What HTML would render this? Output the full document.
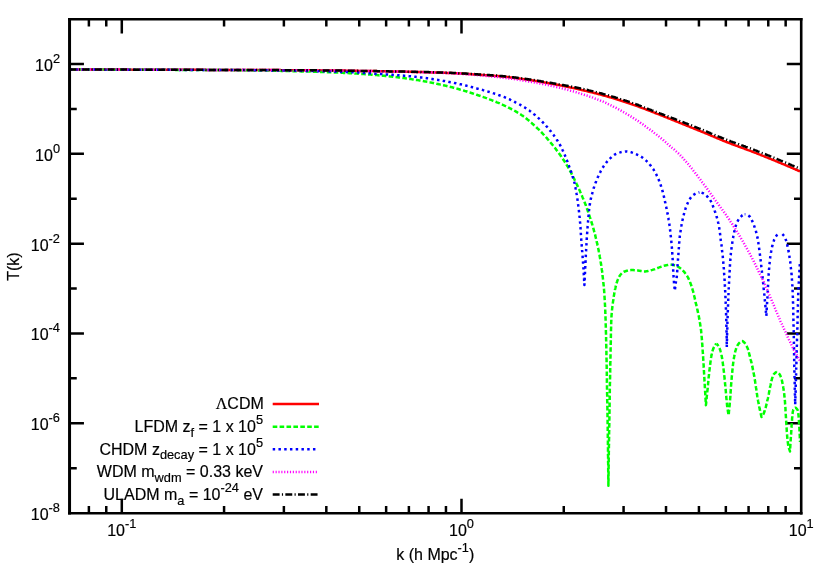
<!DOCTYPE html>
<html lang="en">
<head>
<meta charset="utf-8">
<title>T(k) transfer functions</title>
<style>
html,body{margin:0;padding:0;background:#ffffff;}
body{width:830px;height:581px;overflow:hidden;font-family:"Liberation Sans",sans-serif;}
svg{display:block;will-change:transform;}
</style>
</head>
<body>
<svg width="830" height="581" viewBox="0 0 830 581">
<rect width="830" height="581" fill="#ffffff"/>
<path d="M88.88,513.2 v-7.2 M88.88,19.2 v7.2 M106.26,513.2 v-7.2 M106.26,19.2 v7.2 M121.80,513.2 v-14.4 M121.80,19.2 v14.4 M224.06,513.2 v-7.2 M224.06,19.2 v7.2 M283.88,513.2 v-7.2 M283.88,19.2 v7.2 M326.32,513.2 v-7.2 M326.32,19.2 v7.2 M359.24,513.2 v-7.2 M359.24,19.2 v7.2 M386.14,513.2 v-7.2 M386.14,19.2 v7.2 M408.88,513.2 v-7.2 M408.88,19.2 v7.2 M428.58,513.2 v-7.2 M428.58,19.2 v7.2 M445.96,513.2 v-7.2 M445.96,19.2 v7.2 M461.50,513.2 v-14.4 M461.50,19.2 v14.4 M563.76,513.2 v-7.2 M563.76,19.2 v7.2 M623.58,513.2 v-7.2 M623.58,19.2 v7.2 M666.02,513.2 v-7.2 M666.02,19.2 v7.2 M698.94,513.2 v-7.2 M698.94,19.2 v7.2 M725.84,513.2 v-7.2 M725.84,19.2 v7.2 M748.58,513.2 v-7.2 M748.58,19.2 v7.2 M768.28,513.2 v-7.2 M768.28,19.2 v7.2 M785.66,513.2 v-7.2 M785.66,19.2 v7.2 M69.55,468.18 h7.2 M801.2,468.18 h-7.2 M69.55,423.27 h14.4 M801.2,423.27 h-14.4 M69.55,378.36 h7.2 M801.2,378.36 h-7.2 M69.55,333.45 h14.4 M801.2,333.45 h-14.4 M69.55,288.55 h7.2 M801.2,288.55 h-7.2 M69.55,243.64 h14.4 M801.2,243.64 h-14.4 M69.55,198.73 h7.2 M801.2,198.73 h-7.2 M69.55,153.82 h14.4 M801.2,153.82 h-14.4 M69.55,108.91 h7.2 M801.2,108.91 h-7.2 M69.55,64.00 h14.4 M801.2,64.00 h-14.4" stroke="#000" stroke-width="2.5" fill="none"/>
<g fill="none" stroke-linejoin="round">
<path d="M69.7,69.6 L70.5,69.6 L71.3,69.6 L72.1,69.6 L72.9,69.6 L73.7,69.6 L74.5,69.6 L75.3,69.6 L76.1,69.6 L76.9,69.6 L77.7,69.6 L78.5,69.6 L79.3,69.6 L80.1,69.6 L80.9,69.6 L81.7,69.6 L82.5,69.6 L83.3,69.6 L84.1,69.6 L84.9,69.6 L85.7,69.6 L86.5,69.6 L87.3,69.6 L88.1,69.6 L88.9,69.6 L89.7,69.6 L90.5,69.6 L91.3,69.6 L92.1,69.6 L92.9,69.6 L93.7,69.6 L94.5,69.6 L95.3,69.6 L96.1,69.6 L96.9,69.6 L97.7,69.6 L98.5,69.6 L99.3,69.6 L100.1,69.6 L100.9,69.6 L101.7,69.6 L102.5,69.6 L103.3,69.6 L104.1,69.6 L104.9,69.6 L105.7,69.6 L106.5,69.6 L107.3,69.6 L108.2,69.6 L109.0,69.6 L109.8,69.6 L110.6,69.6 L111.4,69.6 L112.2,69.6 L113.0,69.6 L113.8,69.6 L114.6,69.6 L115.4,69.6 L116.2,69.6 L117.0,69.6 L117.8,69.6 L118.6,69.6 L119.4,69.6 L120.2,69.6 L121.0,69.6 L121.8,69.6 L122.6,69.6 L123.4,69.6 L124.2,69.6 L125.0,69.6 L125.8,69.6 L126.6,69.6 L127.4,69.6 L128.2,69.6 L129.0,69.6 L129.8,69.7 L130.6,69.7 L131.4,69.7 L132.2,69.7 L133.0,69.7 L133.8,69.7 L134.6,69.7 L135.4,69.7 L136.2,69.7 L137.0,69.7 L137.8,69.7 L138.6,69.7 L139.4,69.7 L140.2,69.7 L141.0,69.7 L141.8,69.7 L142.6,69.7 L143.4,69.7 L144.2,69.7 L145.0,69.7 L145.8,69.7 L146.6,69.7 L147.4,69.7 L148.2,69.7 L149.0,69.7 L149.8,69.7 L150.6,69.7 L151.4,69.7 L152.2,69.7 L153.0,69.7 L153.8,69.7 L154.6,69.7 L155.4,69.7 L156.2,69.7 L157.0,69.7 L157.8,69.7 L158.6,69.7 L159.4,69.7 L160.2,69.7 L161.0,69.7 L161.8,69.7 L162.6,69.7 L163.4,69.7 L164.2,69.7 L165.0,69.7 L165.8,69.7 L166.6,69.7 L167.4,69.7 L168.2,69.7 L169.0,69.7 L169.8,69.7 L170.6,69.7 L171.4,69.7 L172.2,69.7 L173.0,69.7 L173.8,69.7 L174.6,69.7 L175.4,69.7 L176.2,69.7 L177.0,69.7 L177.8,69.7 L178.6,69.7 L179.4,69.7 L180.2,69.8 L181.0,69.8 L181.8,69.8 L182.6,69.8 L183.4,69.8 L184.2,69.8 L185.0,69.8 L185.9,69.8 L186.7,69.8 L187.5,69.8 L188.3,69.8 L189.1,69.8 L189.9,69.8 L190.7,69.8 L191.5,69.8 L192.3,69.8 L193.1,69.8 L193.9,69.8 L194.7,69.8 L195.5,69.8 L196.3,69.8 L197.1,69.8 L197.9,69.8 L198.7,69.8 L199.5,69.8 L200.3,69.8 L201.1,69.8 L201.9,69.8 L202.7,69.8 L203.5,69.8 L204.3,69.8 L205.1,69.8 L205.9,69.9 L206.7,69.9 L207.5,69.9 L208.3,69.9 L209.1,69.9 L209.9,69.9 L210.7,69.9 L211.5,69.9 L212.3,69.9 L213.1,69.9 L213.9,69.9 L214.7,69.9 L215.5,69.9 L216.3,69.9 L217.1,69.9 L217.9,69.9 L218.7,69.9 L219.5,69.9 L220.3,69.9 L221.1,69.9 L221.9,69.9 L222.7,69.9 L223.5,69.9 L224.3,69.9 L225.1,69.9 L225.9,69.9 L226.7,69.9 L227.5,69.9 L228.3,70.0 L229.1,70.0 L229.9,70.0 L230.7,70.0 L231.5,70.0 L232.3,70.0 L233.1,70.0 L233.9,70.0 L234.7,70.0 L235.5,70.0 L236.3,70.0 L237.1,70.0 L237.9,70.0 L238.7,70.0 L239.5,70.0 L240.3,70.0 L241.1,70.0 L241.9,70.0 L242.7,70.0 L243.5,70.0 L244.3,70.0 L245.1,70.0 L245.9,70.0 L246.7,70.0 L247.5,70.0 L248.3,70.0 L249.1,70.0 L249.9,70.0 L250.7,70.0 L251.5,70.0 L252.3,70.0 L253.1,70.0 L253.9,70.1 L254.7,70.1 L255.5,70.1 L256.3,70.1 L257.1,70.1 L257.9,70.1 L258.7,70.1 L259.5,70.1 L260.3,70.1 L261.1,70.1 L261.9,70.1 L262.8,70.1 L263.6,70.1 L264.4,70.1 L265.2,70.1 L266.0,70.1 L266.8,70.1 L267.6,70.1 L268.4,70.1 L269.2,70.1 L270.0,70.1 L270.8,70.1 L271.6,70.1 L272.4,70.1 L273.2,70.1 L274.0,70.1 L274.8,70.1 L275.6,70.1 L276.4,70.1 L277.2,70.1 L278.0,70.1 L278.8,70.1 L279.6,70.1 L280.4,70.1 L281.2,70.2 L282.0,70.2 L282.8,70.2 L283.6,70.2 L284.4,70.2 L285.2,70.2 L286.0,70.2 L286.8,70.2 L287.6,70.2 L288.4,70.2 L289.2,70.2 L290.0,70.2 L290.8,70.2 L291.6,70.2 L292.4,70.2 L293.2,70.2 L294.0,70.2 L294.8,70.2 L295.6,70.2 L296.4,70.2 L297.2,70.2 L298.0,70.2 L298.8,70.2 L299.6,70.2 L300.4,70.2 L301.2,70.2 L302.0,70.3 L302.8,70.3 L303.6,70.3 L304.4,70.3 L305.2,70.3 L306.0,70.3 L306.8,70.3 L307.6,70.3 L308.4,70.3 L309.2,70.3 L310.0,70.3 L310.8,70.3 L311.6,70.3 L312.4,70.3 L313.2,70.3 L314.0,70.3 L314.8,70.3 L315.6,70.3 L316.4,70.3 L317.2,70.4 L318.0,70.4 L318.8,70.4 L319.6,70.4 L320.4,70.4 L321.2,70.4 L322.0,70.4 L322.8,70.4 L323.6,70.4 L324.4,70.4 L325.2,70.4 L326.0,70.4 L326.8,70.4 L327.6,70.4 L328.4,70.5 L329.2,70.5 L330.0,70.5 L330.8,70.5 L331.6,70.5 L332.4,70.5 L333.2,70.5 L334.0,70.5 L334.8,70.5 L335.6,70.5 L336.4,70.5 L337.2,70.6 L338.0,70.6 L338.8,70.6 L339.6,70.6 L340.4,70.6 L341.3,70.6 L342.1,70.6 L342.9,70.6 L343.7,70.6 L344.5,70.6 L345.3,70.7 L346.1,70.7 L346.9,70.7 L347.7,70.7 L348.5,70.7 L349.3,70.7 L350.1,70.7 L350.9,70.7 L351.7,70.7 L352.5,70.8 L353.3,70.8 L354.1,70.8 L354.9,70.8 L355.7,70.8 L356.5,70.8 L357.3,70.8 L358.1,70.8 L358.9,70.9 L359.7,70.9 L360.5,70.9 L361.3,70.9 L362.1,70.9 L362.9,70.9 L363.7,70.9 L364.5,70.9 L365.3,71.0 L366.1,71.0 L366.9,71.0 L367.7,71.0 L368.5,71.0 L369.3,71.0 L370.1,71.0 L370.9,71.0 L371.7,71.1 L372.5,71.1 L373.3,71.1 L374.1,71.1 L374.9,71.1 L375.7,71.1 L376.5,71.1 L377.3,71.2 L378.1,71.2 L378.9,71.2 L379.7,71.2 L380.5,71.2 L381.3,71.2 L382.1,71.2 L382.9,71.3 L383.7,71.3 L384.5,71.3 L385.3,71.3 L386.1,71.3 L386.9,71.3 L387.7,71.3 L388.5,71.4 L389.3,71.4 L390.1,71.4 L390.9,71.4 L391.7,71.4 L392.5,71.4 L393.3,71.4 L394.1,71.5 L394.9,71.5 L395.7,71.5 L396.5,71.5 L397.3,71.5 L398.1,71.5 L398.9,71.6 L399.7,71.6 L400.5,71.6 L401.3,71.6 L402.1,71.6 L402.9,71.6 L403.7,71.7 L404.5,71.7 L405.3,71.7 L406.1,71.7 L406.9,71.7 L407.7,71.7 L408.5,71.8 L409.3,71.8 L410.1,71.8 L410.9,71.8 L411.7,71.8 L412.5,71.9 L413.3,71.9 L414.1,71.9 L414.9,71.9 L415.7,71.9 L416.5,72.0 L417.3,72.0 L418.1,72.0 L418.9,72.0 L419.7,72.0 L420.5,72.1 L421.3,72.1 L422.1,72.1 L422.9,72.1 L423.7,72.1 L424.5,72.2 L425.3,72.2 L426.2,72.2 L427.0,72.2 L427.8,72.3 L428.6,72.3 L429.4,72.3 L430.2,72.3 L431.0,72.3 L431.8,72.4 L432.6,72.4 L433.4,72.4 L434.2,72.4 L435.0,72.5 L435.8,72.5 L436.6,72.5 L437.4,72.5 L438.2,72.6 L439.0,72.6 L439.8,72.6 L440.6,72.7 L441.4,72.7 L442.2,72.7 L443.0,72.7 L443.8,72.8 L444.6,72.8 L445.4,72.8 L446.2,72.9 L447.0,72.9 L447.8,72.9 L448.6,72.9 L449.4,73.0 L450.2,73.0 L451.0,73.0 L451.8,73.1 L452.6,73.1 L453.4,73.2 L454.2,73.2 L455.0,73.2 L455.8,73.3 L456.6,73.3 L457.4,73.4 L458.2,73.4 L459.0,73.4 L459.8,73.5 L460.6,73.5 L461.4,73.6 L462.2,73.6 L463.0,73.7 L463.8,73.7 L464.6,73.8 L465.4,73.8 L466.2,73.9 L467.0,73.9 L467.8,74.0 L468.6,74.0 L469.4,74.1 L470.2,74.1 L471.0,74.2 L471.8,74.2 L472.6,74.3 L473.4,74.4 L474.2,74.4 L475.0,74.5 L475.8,74.5 L476.6,74.6 L477.4,74.6 L478.2,74.7 L479.0,74.7 L479.8,74.8 L480.5,74.8 L481.3,74.9 L482.1,74.9 L482.9,75.0 L483.7,75.0 L484.5,75.1 L485.3,75.2 L486.1,75.2 L486.9,75.3 L487.7,75.3 L488.5,75.4 L489.3,75.4 L490.1,75.5 L490.9,75.6 L491.7,75.6 L492.5,75.7 L493.3,75.7 L494.1,75.8 L494.9,75.9 L495.7,75.9 L496.5,76.0 L497.3,76.1 L498.1,76.1 L498.9,76.2 L499.7,76.3 L500.5,76.3 L501.3,76.4 L502.1,76.5 L502.9,76.6 L503.7,76.7 L504.5,76.7 L505.3,76.8 L506.1,76.9 L506.9,77.0 L507.7,77.1 L508.5,77.2 L509.3,77.3 L510.1,77.4 L510.9,77.5 L511.7,77.6 L512.5,77.7 L513.3,77.8 L514.0,77.9 L514.8,78.0 L515.6,78.1 L516.4,78.2 L517.2,78.3 L518.0,78.4 L518.8,78.5 L519.6,78.6 L520.4,78.7 L521.2,78.8 L522.0,78.9 L522.8,79.1 L523.6,79.2 L524.4,79.3 L525.2,79.4 L526.0,79.5 L526.8,79.6 L527.5,79.7 L528.3,79.8 L529.1,80.0 L529.9,80.1 L530.7,80.2 L531.5,80.3 L532.3,80.5 L533.1,80.6 L533.9,80.7 L534.7,80.8 L535.5,81.0 L536.2,81.1 L537.0,81.2 L537.8,81.4 L538.6,81.5 L539.4,81.6 L540.2,81.8 L541.0,81.9 L541.8,82.0 L542.6,82.2 L543.4,82.3 L544.1,82.5 L544.9,82.6 L545.7,82.7 L546.5,82.9 L547.3,83.0 L548.1,83.1 L548.9,83.3 L549.7,83.4 L550.5,83.5 L551.2,83.7 L552.0,83.8 L552.8,84.0 L553.6,84.1 L554.4,84.2 L555.2,84.4 L556.0,84.5 L556.8,84.7 L557.6,84.8 L558.3,85.0 L559.1,85.1 L559.9,85.3 L560.7,85.4 L561.5,85.6 L562.3,85.7 L563.1,85.9 L563.8,86.1 L564.6,86.2 L565.4,86.4 L566.2,86.5 L567.0,86.7 L567.8,86.9 L568.5,87.0 L569.3,87.2 L570.1,87.4 L570.9,87.5 L571.7,87.7 L572.5,87.9 L573.2,88.1 L574.0,88.2 L574.8,88.4 L575.6,88.6 L576.4,88.7 L577.2,88.9 L577.9,89.1 L578.7,89.3 L579.5,89.5 L580.3,89.6 L581.1,89.8 L581.8,90.0 L582.6,90.2 L583.4,90.4 L584.2,90.5 L585.0,90.7 L585.7,90.9 L586.5,91.1 L587.3,91.3 L588.1,91.5 L588.9,91.7 L589.6,91.9 L590.4,92.0 L591.2,92.2 L592.0,92.4 L592.7,92.6 L593.5,92.8 L594.3,93.0 L595.1,93.2 L595.9,93.4 L596.6,93.6 L597.4,93.8 L598.2,94.0 L599.0,94.2 L599.7,94.4 L600.5,94.6 L601.3,94.8 L602.1,95.0 L602.8,95.3 L603.6,95.5 L604.4,95.7 L605.1,95.9 L605.9,96.1 L606.7,96.3 L607.5,96.5 L608.2,96.8 L609.0,97.0 L609.8,97.2 L610.5,97.4 L611.3,97.7 L612.1,97.9 L612.8,98.1 L613.6,98.3 L614.4,98.6 L615.1,98.8 L615.9,99.0 L616.7,99.3 L617.4,99.5 L618.2,99.8 L619.0,100.0 L619.7,100.2 L620.5,100.5 L621.3,100.7 L622.0,101.0 L622.8,101.2 L623.5,101.5 L624.3,101.7 L625.1,102.0 L625.8,102.2 L626.6,102.5 L627.3,102.7 L628.1,103.0 L628.9,103.2 L629.6,103.5 L630.4,103.7 L631.1,104.0 L631.9,104.3 L632.7,104.5 L633.4,104.8 L634.2,105.1 L634.9,105.3 L635.7,105.6 L636.4,105.9 L637.2,106.1 L637.9,106.4 L638.7,106.7 L639.4,107.0 L640.2,107.2 L640.9,107.5 L641.7,107.8 L642.4,108.1 L643.2,108.4 L643.9,108.6 L644.7,108.9 L645.4,109.2 L646.2,109.5 L646.9,109.8 L647.7,110.1 L648.4,110.4 L649.2,110.7 L649.9,110.9 L650.7,111.2 L651.4,111.5 L652.2,111.8 L652.9,112.1 L653.7,112.4 L654.4,112.7 L655.1,113.0 L655.9,113.3 L656.6,113.6 L657.4,113.9 L658.1,114.1 L658.9,114.4 L659.6,114.7 L660.4,115.0 L661.1,115.3 L661.9,115.6 L662.6,115.9 L663.3,116.2 L664.1,116.5 L664.8,116.8 L665.6,117.1 L666.3,117.4 L667.1,117.7 L667.8,118.0 L668.6,118.3 L669.3,118.6 L670.0,118.9 L670.8,119.2 L671.5,119.5 L672.3,119.8 L673.0,120.1 L673.8,120.4 L674.5,120.7 L675.2,121.0 L676.0,121.3 L676.7,121.6 L677.5,121.9 L678.2,122.2 L679.0,122.5 L679.7,122.8 L680.4,123.1 L681.2,123.4 L681.9,123.7 L682.7,124.0 L683.4,124.3 L684.2,124.6 L684.9,124.9 L685.6,125.2 L686.4,125.5 L687.1,125.8 L687.9,126.1 L688.6,126.4 L689.4,126.7 L690.1,127.0 L690.8,127.3 L691.6,127.6 L692.3,127.9 L693.1,128.2 L693.8,128.5 L694.6,128.8 L695.3,129.1 L696.0,129.4 L696.8,129.7 L697.5,130.0 L698.3,130.3 L699.0,130.6 L699.8,130.9 L700.5,131.2 L701.2,131.5 L702.0,131.8 L702.7,132.1 L703.5,132.4 L704.2,132.7 L704.9,133.0 L705.7,133.3 L706.4,133.6 L707.2,133.9 L707.9,134.2 L708.6,134.5 L709.4,134.9 L710.1,135.2 L710.9,135.5 L711.6,135.8 L712.3,136.1 L713.1,136.4 L713.8,136.7 L714.5,137.1 L715.3,137.4 L716.0,137.7 L716.8,138.0 L717.5,138.3 L718.2,138.6 L719.0,138.9 L719.7,139.2 L720.4,139.5 L721.2,139.8 L721.9,140.1 L722.7,140.5 L723.4,140.8 L724.2,141.1 L724.9,141.4 L725.6,141.7 L726.4,142.0 L727.1,142.2 L727.9,142.5 L728.6,142.8 L729.4,143.1 L730.1,143.4 L730.9,143.7 L731.6,144.0 L732.4,144.3 L733.1,144.5 L733.9,144.8 L734.6,145.1 L735.4,145.4 L736.1,145.7 L736.9,145.9 L737.6,146.2 L738.4,146.5 L739.1,146.8 L739.9,147.0 L740.6,147.3 L741.4,147.6 L742.1,147.9 L742.9,148.1 L743.6,148.4 L744.4,148.7 L745.1,149.0 L745.9,149.2 L746.6,149.5 L747.4,149.8 L748.1,150.1 L748.9,150.4 L749.6,150.6 L750.4,150.9 L751.1,151.2 L751.9,151.5 L752.6,151.8 L753.4,152.1 L754.1,152.4 L754.9,152.7 L755.6,152.9 L756.4,153.2 L757.1,153.5 L757.9,153.8 L758.6,154.1 L759.3,154.4 L760.1,154.7 L760.8,155.0 L761.6,155.3 L762.3,155.6 L763.1,155.9 L763.8,156.2 L764.6,156.5 L765.3,156.8 L766.0,157.1 L766.8,157.4 L767.5,157.7 L768.3,158.0 L769.0,158.3 L769.7,158.6 L770.5,158.9 L771.2,159.2 L772.0,159.5 L772.7,159.8 L773.5,160.1 L774.2,160.4 L774.9,160.7 L775.7,161.0 L776.4,161.3 L777.2,161.6 L777.9,161.9 L778.6,162.3 L779.4,162.6 L780.1,162.9 L780.9,163.2 L781.6,163.5 L782.3,163.8 L783.1,164.1 L783.8,164.4 L784.5,164.7 L785.3,165.0 L786.0,165.4 L786.8,165.7 L787.5,166.0 L788.2,166.3 L789.0,166.6 L789.7,166.9 L790.4,167.2 L791.2,167.6 L791.9,167.9 L792.7,168.2 L793.4,168.5 L794.1,168.8 L794.9,169.1 L795.6,169.5 L796.3,169.8 L797.1,170.1 L797.8,170.4 L798.5,170.8 L799.3,171.1 L800.0,171.4" stroke="#ff0000" stroke-width="2.5"/>
<path d="M69.7,69.6 L70.5,69.6 L71.3,69.6 L72.1,69.6 L72.9,69.6 L73.7,69.6 L74.5,69.6 L75.3,69.6 L76.1,69.6 L76.9,69.6 L77.7,69.6 L78.5,69.6 L79.3,69.6 L80.1,69.6 L80.9,69.6 L81.7,69.6 L82.5,69.6 L83.3,69.6 L84.1,69.6 L84.9,69.6 L85.7,69.6 L86.5,69.6 L87.3,69.6 L88.1,69.6 L88.9,69.6 L89.7,69.6 L90.5,69.6 L91.3,69.6 L92.1,69.6 L92.9,69.6 L93.7,69.6 L94.5,69.6 L95.3,69.6 L96.1,69.6 L96.9,69.6 L97.7,69.6 L98.5,69.6 L99.3,69.6 L100.1,69.6 L100.9,69.6 L101.7,69.6 L102.5,69.6 L103.3,69.6 L104.1,69.6 L104.9,69.7 L105.7,69.7 L106.5,69.7 L107.3,69.7 L108.1,69.7 L108.9,69.7 L109.7,69.7 L110.5,69.7 L111.3,69.7 L112.1,69.7 L112.9,69.7 L113.7,69.7 L114.5,69.7 L115.3,69.7 L116.1,69.7 L116.9,69.7 L117.7,69.7 L118.5,69.7 L119.4,69.7 L120.2,69.7 L121.0,69.7 L121.8,69.7 L122.6,69.7 L123.4,69.7 L124.2,69.7 L125.0,69.7 L125.8,69.7 L126.6,69.7 L127.4,69.7 L128.2,69.7 L129.0,69.7 L129.8,69.7 L130.6,69.7 L131.4,69.7 L132.2,69.7 L133.0,69.7 L133.8,69.7 L134.6,69.7 L135.4,69.7 L136.2,69.7 L137.0,69.7 L137.8,69.7 L138.6,69.7 L139.4,69.7 L140.2,69.7 L141.0,69.7 L141.8,69.7 L142.6,69.7 L143.4,69.7 L144.2,69.8 L145.0,69.8 L145.8,69.8 L146.6,69.8 L147.4,69.8 L148.2,69.8 L149.0,69.8 L149.8,69.8 L150.6,69.8 L151.4,69.8 L152.2,69.8 L153.0,69.8 L153.8,69.8 L154.6,69.8 L155.4,69.8 L156.2,69.8 L157.0,69.8 L157.8,69.8 L158.6,69.8 L159.4,69.8 L160.2,69.8 L161.0,69.8 L161.8,69.8 L162.6,69.8 L163.4,69.8 L164.2,69.8 L165.0,69.8 L165.8,69.8 L166.6,69.8 L167.4,69.8 L168.2,69.8 L169.0,69.8 L169.8,69.8 L170.6,69.8 L171.4,69.8 L172.2,69.8 L173.0,69.8 L173.8,69.8 L174.6,69.8 L175.4,69.9 L176.2,69.9 L177.0,69.9 L177.8,69.9 L178.6,69.9 L179.4,69.9 L180.2,69.9 L181.0,69.9 L181.8,69.9 L182.6,69.9 L183.4,69.9 L184.2,69.9 L185.0,69.9 L185.8,69.9 L186.6,69.9 L187.4,69.9 L188.2,69.9 L189.0,69.9 L189.8,69.9 L190.6,69.9 L191.4,69.9 L192.2,69.9 L193.0,69.9 L193.8,69.9 L194.6,69.9 L195.4,69.9 L196.2,69.9 L197.0,69.9 L197.8,69.9 L198.6,69.9 L199.4,69.9 L200.2,70.0 L201.0,70.0 L201.8,70.0 L202.6,70.0 L203.4,70.0 L204.2,70.0 L205.0,70.0 L205.8,70.0 L206.6,70.0 L207.4,70.0 L208.2,70.0 L209.0,70.0 L209.8,70.0 L210.6,70.0 L211.4,70.0 L212.2,70.0 L213.0,70.0 L213.8,70.0 L214.6,70.0 L215.4,70.0 L216.2,70.0 L217.1,70.0 L217.9,70.0 L218.7,70.0 L219.5,70.1 L220.3,70.1 L221.1,70.1 L221.9,70.1 L222.7,70.1 L223.5,70.1 L224.3,70.1 L225.1,70.1 L225.9,70.1 L226.7,70.1 L227.5,70.1 L228.3,70.1 L229.1,70.1 L229.9,70.1 L230.7,70.1 L231.5,70.1 L232.3,70.1 L233.1,70.1 L233.9,70.2 L234.7,70.2 L235.5,70.2 L236.3,70.2 L237.1,70.2 L237.9,70.2 L238.7,70.2 L239.5,70.2 L240.3,70.2 L241.1,70.2 L241.9,70.2 L242.7,70.2 L243.5,70.2 L244.3,70.2 L245.1,70.2 L245.9,70.3 L246.7,70.3 L247.5,70.3 L248.3,70.3 L249.1,70.3 L249.9,70.3 L250.7,70.3 L251.5,70.3 L252.3,70.3 L253.1,70.3 L253.9,70.4 L254.7,70.4 L255.5,70.4 L256.3,70.4 L257.1,70.4 L257.9,70.4 L258.7,70.4 L259.5,70.4 L260.3,70.5 L261.1,70.5 L261.9,70.5 L262.7,70.5 L263.5,70.5 L264.3,70.5 L265.1,70.5 L265.9,70.6 L266.7,70.6 L267.5,70.6 L268.3,70.6 L269.1,70.6 L269.9,70.6 L270.7,70.6 L271.5,70.7 L272.3,70.7 L273.1,70.7 L273.9,70.7 L274.7,70.7 L275.5,70.7 L276.3,70.8 L277.1,70.8 L277.9,70.8 L278.7,70.8 L279.5,70.8 L280.3,70.8 L281.1,70.9 L281.9,70.9 L282.7,70.9 L283.5,70.9 L284.3,70.9 L285.1,71.0 L285.9,71.0 L286.7,71.0 L287.5,71.0 L288.3,71.0 L289.1,71.1 L289.9,71.1 L290.7,71.1 L291.5,71.1 L292.3,71.1 L293.1,71.2 L293.9,71.2 L294.7,71.2 L295.5,71.2 L296.3,71.2 L297.1,71.3 L297.9,71.3 L298.7,71.3 L299.5,71.3 L300.3,71.3 L301.1,71.4 L301.9,71.4 L302.7,71.4 L303.5,71.4 L304.3,71.4 L305.1,71.5 L305.9,71.5 L306.7,71.5 L307.5,71.5 L308.3,71.6 L309.1,71.6 L309.9,71.6 L310.7,71.6 L311.5,71.6 L312.3,71.7 L313.1,71.7 L313.9,71.7 L314.7,71.7 L315.5,71.8 L316.3,71.8 L317.1,71.8 L317.9,71.8 L318.7,71.9 L319.5,71.9 L320.3,71.9 L321.1,71.9 L321.9,72.0 L322.7,72.0 L323.5,72.0 L324.3,72.1 L325.1,72.1 L325.9,72.1 L326.7,72.1 L327.5,72.2 L328.3,72.2 L329.1,72.2 L329.9,72.3 L330.7,72.3 L331.5,72.3 L332.3,72.4 L333.1,72.4 L333.9,72.4 L334.7,72.5 L335.5,72.5 L336.3,72.5 L337.1,72.6 L337.9,72.6 L338.7,72.6 L339.5,72.7 L340.3,72.7 L341.1,72.8 L341.9,72.8 L342.7,72.8 L343.5,72.9 L344.3,72.9 L345.1,73.0 L345.9,73.0 L346.7,73.0 L347.5,73.1 L348.3,73.1 L349.1,73.2 L349.9,73.2 L350.7,73.2 L351.5,73.3 L352.3,73.3 L353.1,73.4 L353.9,73.4 L354.7,73.5 L355.5,73.5 L356.3,73.6 L357.1,73.6 L357.9,73.7 L358.7,73.7 L359.5,73.8 L360.3,73.8 L361.1,73.9 L361.9,73.9 L362.7,74.0 L363.5,74.0 L364.3,74.1 L365.1,74.2 L365.9,74.2 L366.7,74.3 L367.5,74.3 L368.3,74.4 L369.1,74.5 L369.9,74.5 L370.7,74.6 L371.5,74.7 L372.3,74.7 L373.1,74.8 L373.9,74.9 L374.7,74.9 L375.5,75.0 L376.3,75.1 L377.1,75.1 L377.9,75.2 L378.7,75.3 L379.5,75.4 L380.3,75.4 L381.1,75.5 L381.9,75.6 L382.7,75.7 L383.5,75.7 L384.3,75.8 L385.1,75.9 L385.9,76.0 L386.7,76.0 L387.5,76.1 L388.3,76.2 L389.1,76.3 L389.9,76.4 L390.6,76.5 L391.4,76.6 L392.2,76.7 L393.0,76.7 L393.8,76.8 L394.6,76.9 L395.4,77.0 L396.2,77.1 L397.0,77.2 L397.8,77.3 L398.6,77.4 L399.4,77.5 L400.2,77.6 L401.0,77.7 L401.8,77.8 L402.6,77.9 L403.4,78.0 L404.2,78.1 L405.0,78.2 L405.8,78.4 L406.6,78.5 L407.3,78.6 L408.1,78.7 L408.9,78.8 L409.7,78.9 L410.5,79.0 L411.3,79.1 L412.1,79.3 L412.9,79.4 L413.7,79.5 L414.5,79.6 L415.3,79.7 L416.0,79.9 L416.8,80.0 L417.6,80.1 L418.4,80.2 L419.2,80.4 L420.0,80.5 L420.8,80.6 L421.6,80.8 L422.4,80.9 L423.2,81.1 L423.9,81.2 L424.7,81.4 L425.5,81.5 L426.3,81.6 L427.1,81.8 L427.9,81.9 L428.7,82.1 L429.5,82.3 L430.2,82.4 L431.0,82.6 L431.8,82.7 L432.6,82.9 L433.4,83.0 L434.2,83.2 L435.0,83.4 L435.7,83.5 L436.5,83.7 L437.3,83.9 L438.1,84.0 L438.9,84.2 L439.7,84.4 L440.4,84.6 L441.2,84.7 L442.0,84.9 L442.8,85.1 L443.6,85.3 L444.3,85.5 L445.1,85.6 L445.9,85.8 L446.7,86.0 L447.5,86.2 L448.2,86.4 L449.0,86.6 L449.8,86.8 L450.6,87.0 L451.3,87.1 L452.1,87.3 L452.9,87.5 L453.7,87.8 L454.4,88.0 L455.2,88.2 L456.0,88.4 L456.7,88.6 L457.5,88.8 L458.3,89.0 L459.1,89.2 L459.8,89.5 L460.6,89.7 L461.4,89.9 L462.1,90.1 L462.9,90.4 L463.7,90.6 L464.5,90.8 L465.2,91.1 L466.0,91.3 L466.8,91.5 L467.5,91.8 L468.3,92.0 L469.0,92.3 L469.8,92.5 L470.6,92.7 L471.3,93.0 L472.1,93.2 L472.9,93.5 L473.6,93.7 L474.4,94.0 L475.1,94.2 L475.9,94.5 L476.7,94.8 L477.4,95.0 L478.2,95.3 L478.9,95.5 L479.7,95.8 L480.5,96.0 L481.2,96.3 L482.0,96.6 L482.7,96.8 L483.5,97.1 L484.2,97.4 L485.0,97.6 L485.7,97.9 L486.5,98.2 L487.2,98.5 L488.0,98.7 L488.7,99.0 L489.5,99.3 L490.2,99.6 L491.0,99.9 L491.7,100.2 L492.5,100.5 L493.2,100.8 L494.0,101.1 L494.7,101.4 L495.5,101.7 L496.2,102.0 L496.9,102.3 L497.7,102.6 L498.4,102.9 L499.2,103.2 L499.9,103.6 L500.6,103.9 L501.4,104.2 L502.1,104.5 L502.8,104.9 L503.5,105.2 L504.3,105.5 L505.0,105.9 L505.7,106.2 L506.4,106.5 L507.1,106.9 L507.9,107.2 L508.6,107.6 L509.3,108.0 L510.0,108.3 L510.7,108.7 L511.4,109.1 L512.2,109.4 L512.9,109.8 L513.6,110.2 L514.3,110.6 L515.0,111.0 L515.7,111.4 L516.4,111.8 L517.1,112.2 L517.7,112.6 L518.4,113.0 L519.1,113.4 L519.8,113.9 L520.5,114.3 L521.1,114.7 L521.8,115.2 L522.4,115.6 L523.1,116.1 L523.7,116.6 L524.4,117.1 L525.0,117.5 L525.7,118.0 L526.3,118.5 L526.9,119.0 L527.5,119.5 L528.2,120.0 L528.8,120.5 L529.4,121.0 L530.0,121.6 L530.6,122.1 L531.2,122.6 L531.8,123.1 L532.4,123.7 L533.0,124.2 L533.6,124.7 L534.2,125.3 L534.8,125.8 L535.4,126.4 L536.0,126.9 L536.6,127.5 L537.1,128.0 L537.7,128.6 L538.3,129.1 L538.9,129.7 L539.4,130.2 L540.0,130.8 L540.6,131.4 L541.1,131.9 L541.7,132.5 L542.2,133.1 L542.8,133.7 L543.3,134.3 L543.9,134.9 L544.4,135.5 L545.0,136.0 L545.5,136.6 L546.0,137.2 L546.6,137.8 L547.1,138.4 L547.6,139.1 L548.1,139.7 L548.7,140.3 L549.2,140.9 L549.7,141.5 L550.2,142.1 L550.7,142.7 L551.2,143.3 L551.8,143.9 L552.3,144.6 L552.8,145.2 L553.3,145.8 L553.8,146.4 L554.3,147.1 L554.8,147.7 L555.3,148.3 L555.7,149.0 L556.2,149.6 L556.7,150.2 L557.2,150.9 L557.7,151.5 L558.1,152.2 L558.6,152.8 L559.1,153.5 L559.5,154.1 L560.0,154.8 L560.5,155.4 L560.9,156.1 L561.4,156.7 L561.8,157.4 L562.3,158.1 L562.7,158.7 L563.2,159.4 L563.6,160.1 L564.1,160.7 L564.5,161.4 L564.9,162.1 L565.4,162.8 L565.8,163.4 L566.2,164.1 L566.6,164.8 L567.0,165.5 L567.5,166.2 L567.9,166.9 L568.2,167.5 L568.6,168.2 L569.0,168.9 L569.4,169.7 L569.8,170.4 L570.2,171.1 L570.5,171.8 L570.9,172.5 L571.3,173.2 L571.6,173.9 L572.0,174.6 L572.4,175.3 L572.7,176.1 L573.1,176.8 L573.4,177.5 L573.8,178.2 L574.2,178.9 L574.5,179.6 L574.9,180.4 L575.2,181.1 L575.6,181.8 L575.9,182.5 L576.3,183.2 L576.6,184.0 L577.0,184.7 L577.3,185.4 L577.7,186.1 L578.0,186.9 L578.3,187.6 L578.7,188.3 L579.0,189.0 L579.3,189.8 L579.7,190.5 L580.0,191.2 L580.3,192.0 L580.6,192.7 L580.9,193.4 L581.3,194.2 L581.6,194.9 L581.9,195.6 L582.2,196.4 L582.5,197.1 L582.8,197.9 L583.1,198.6 L583.4,199.3 L583.7,200.1 L584.0,200.8 L584.3,201.6 L584.6,202.3 L584.9,203.1 L585.2,203.8 L585.5,204.6 L585.8,205.3 L586.0,206.1 L586.3,206.8 L586.6,207.6 L586.9,208.3 L587.1,209.1 L587.4,209.8 L587.7,210.6 L587.9,211.3 L588.2,212.1 L588.4,212.9 L588.7,213.6 L588.9,214.4 L589.2,215.1 L589.5,215.9 L589.7,216.7 L590.0,217.4 L590.2,218.2 L590.5,218.9 L590.7,219.7 L590.9,220.5 L591.2,221.2 L591.4,222.0 L591.7,222.8 L591.9,223.5 L592.1,224.3 L592.4,225.0 L592.6,225.8 L592.8,226.6 L593.1,227.4 L593.3,228.1 L593.5,228.9 L593.7,229.7 L593.9,230.4 L594.1,231.2 L594.3,232.0 L594.6,232.8 L594.8,233.5 L595.0,234.3 L595.2,235.1 L595.3,235.9 L595.5,236.6 L595.7,237.4 L595.9,238.2 L596.1,239.0 L596.3,239.8 L596.5,240.5 L596.6,241.3 L596.8,242.1 L597.0,242.9 L597.2,243.7 L597.4,244.4 L597.5,245.2 L597.7,246.0 L597.9,246.8 L598.0,247.6 L598.2,248.4 L598.4,249.1 L598.5,249.9 L598.7,250.7 L598.8,251.5 L599.0,252.3 L599.1,253.1 L599.3,253.9 L599.4,254.6 L599.6,255.4 L599.7,256.2 L599.8,257.0 L600.0,257.8 L600.1,258.6 L600.3,259.4 L600.4,260.2 L600.5,261.0 L600.6,261.7 L600.8,262.5 L600.9,263.3 L601.0,264.1 L601.2,264.9 L601.3,265.7 L601.4,266.5 L601.5,267.3 L601.6,268.1 L601.7,268.9 L601.8,269.7 L602.0,270.5 L602.1,271.3 L602.2,272.0 L602.3,272.8 L602.4,273.6 L602.5,274.4 L602.5,275.2 L602.6,276.0 L602.7,276.8 L602.8,277.6 L602.9,278.4 L603.0,279.2 L603.1,280.0 L603.2,280.8 L603.3,281.6 L603.3,282.4 L603.4,283.2 L603.5,284.0 L603.6,284.8 L603.7,285.6 L603.7,286.4 L603.8,287.2 L603.9,288.0 L604.0,288.8 L604.0,289.6 L604.1,290.4 L604.2,291.2 L604.2,292.0 L604.3,292.8 L604.3,293.6 L604.4,294.4 L604.4,295.2 L604.5,296.0 L604.5,296.8 L604.6,297.6 L604.6,298.4 L604.7,299.2 L604.7,300.0 L604.8,300.8 L604.8,301.5 L604.9,302.3 L604.9,303.1 L604.9,303.9 L605.0,304.7 L605.0,305.5 L605.1,306.3 L605.1,307.1 L605.1,307.9 L605.2,308.7 L605.2,309.5 L605.2,310.4 L605.3,311.2 L605.3,312.0 L605.3,312.8 L605.4,313.6 L605.4,314.4 L605.4,315.2 L605.5,316.0 L605.5,316.8 L605.5,317.6 L605.5,318.4 L605.6,319.2 L605.6,320.0 L605.6,320.8 L605.6,321.6 L605.7,322.4 L605.7,323.2 L605.7,324.0 L605.7,324.8 L605.8,325.6 L605.8,326.4 L605.8,327.2 L605.8,328.0 L605.9,328.8 L605.9,329.6 L605.9,330.4 L605.9,331.2 L605.9,332.0 L606.0,332.8 L606.0,333.6 L606.0,334.4 L606.0,335.2 L606.0,336.0 L606.1,336.8 L606.1,337.6 L606.1,338.4 L606.1,339.2 L606.1,340.0 L606.2,340.8 L606.2,341.6 L606.2,342.4 L606.2,343.2 L606.2,344.0 L606.2,344.8 L606.3,345.6 L606.3,346.4 L606.3,347.2 L606.3,348.0 L606.3,348.8 L606.3,349.6 L606.4,350.4 L606.4,351.2 L606.4,352.0 L606.4,352.8 L606.4,353.6 L606.4,354.4 L606.5,355.2 L606.5,356.0 L606.5,356.8 L606.5,357.6 L606.5,358.4 L606.5,359.2 L606.6,360.0 L606.6,360.8 L606.6,361.6 L606.6,362.4 L606.6,363.2 L606.6,364.0 L606.6,364.8 L606.7,365.6 L606.7,366.4 L606.7,367.2 L606.7,368.0 L606.7,368.8 L606.7,369.6 L606.7,370.4 L606.8,371.2 L606.8,372.0 L606.8,372.8 L606.8,373.6 L606.8,374.4 L606.8,375.2 L606.8,376.0 L606.9,376.8 L606.9,377.6 L606.9,378.4 L606.9,379.2 L606.9,380.0 L606.9,380.8 L606.9,381.6 L606.9,382.4 L607.0,383.2 L607.0,384.0 L607.0,384.8 L607.0,385.6 L607.0,386.4 L607.0,387.2 L607.0,388.0 L607.0,388.8 L607.1,389.6 L607.1,390.4 L607.1,391.2 L607.1,392.0 L607.1,392.8 L607.1,393.6 L607.1,394.4 L607.2,395.2 L607.2,396.0 L607.2,396.8 L607.2,397.6 L607.2,398.4 L607.2,399.2 L607.2,400.0 L607.2,400.8 L607.3,401.6 L607.3,402.4 L607.3,403.2 L607.3,404.0 L607.3,404.8 L607.3,405.6 L607.3,406.4 L607.4,407.2 L607.4,408.0 L607.4,408.8 L607.4,409.6 L607.4,410.4 L607.4,411.2 L607.4,412.0 L607.4,412.8 L607.5,413.6 L607.5,414.4 L607.5,415.2 L607.5,416.0 L607.5,416.8 L607.5,417.6 L607.5,418.4 L607.5,419.2 L607.6,420.0 L607.6,420.8 L607.6,421.6 L607.6,422.4 L607.6,423.2 L607.6,424.0 L607.6,424.8 L607.6,425.6 L607.6,426.4 L607.7,427.2 L607.7,428.0 L607.7,428.8 L607.7,429.6 L607.7,430.4 L607.7,431.2 L607.7,432.0 L607.7,432.8 L607.8,433.7 L607.8,434.5 L607.8,435.3 L607.8,436.1 L607.8,436.9 L607.8,437.7 L607.8,438.5 L607.8,439.3 L607.8,440.1 L607.9,440.9 L607.9,441.7 L607.9,442.5 L607.9,443.3 L607.9,444.1 L607.9,444.9 L607.9,445.7 L607.9,446.5 L607.9,447.3 L608.0,448.1 L608.0,448.9 L608.0,449.7 L608.0,450.5 L608.0,451.3 L608.0,452.1 L608.0,452.9 L608.0,453.7 L608.0,454.5 L608.0,455.3 L608.1,456.1 L608.1,456.9 L608.1,457.7 L608.1,458.5 L608.1,459.3 L608.1,460.1 L608.1,460.9 L608.1,461.7 L608.1,462.5 L608.2,463.3 L608.2,464.1 L608.2,464.9 L608.2,465.7 L608.2,466.5 L608.2,467.3 L608.2,468.1 L608.2,468.9 L608.2,469.7 L608.2,470.5 L608.2,471.3 L608.3,472.1 L608.3,472.9 L608.3,473.7 L608.3,474.5 L608.3,475.3 L608.3,476.1 L608.3,476.9 L608.3,477.7 L608.3,478.5 L608.3,479.3 L608.3,480.1 L608.4,480.9 L608.4,481.7 L608.4,482.5 L608.4,483.3 L608.4,484.1 L608.4,484.9 L608.4,485.7 L608.4,484.9 L608.4,484.1 L608.4,483.3 L608.4,482.5 L608.4,481.7 L608.5,480.9 L608.5,480.1 L608.5,479.3 L608.5,478.5 L608.5,477.7 L608.5,476.9 L608.5,476.1 L608.5,475.3 L608.5,474.5 L608.6,473.7 L608.6,472.9 L608.6,472.1 L608.6,471.2 L608.6,470.4 L608.6,469.6 L608.6,468.8 L608.6,468.0 L608.6,467.2 L608.6,466.4 L608.7,465.6 L608.7,464.8 L608.7,464.0 L608.7,463.2 L608.7,462.4 L608.7,461.6 L608.7,460.8 L608.7,460.0 L608.7,459.2 L608.8,458.4 L608.8,457.6 L608.8,456.8 L608.8,456.0 L608.8,455.2 L608.8,454.4 L608.8,453.6 L608.8,452.8 L608.8,452.0 L608.9,451.2 L608.9,450.4 L608.9,449.6 L608.9,448.8 L608.9,448.0 L608.9,447.2 L608.9,446.4 L608.9,445.6 L609.0,444.8 L609.0,444.0 L609.0,443.1 L609.0,442.3 L609.0,441.5 L609.0,440.7 L609.0,439.9 L609.0,439.1 L609.1,438.3 L609.1,437.5 L609.1,436.7 L609.1,435.9 L609.1,435.1 L609.1,434.3 L609.1,433.5 L609.1,432.7 L609.1,431.9 L609.2,431.1 L609.2,430.3 L609.2,429.5 L609.2,428.7 L609.2,427.9 L609.2,427.1 L609.2,426.3 L609.3,425.5 L609.3,424.7 L609.3,423.9 L609.3,423.1 L609.3,422.3 L609.3,421.5 L609.3,420.7 L609.3,419.9 L609.4,419.1 L609.4,418.3 L609.4,417.5 L609.4,416.7 L609.4,415.9 L609.4,415.0 L609.4,414.2 L609.4,413.4 L609.5,412.6 L609.5,411.8 L609.5,411.0 L609.5,410.2 L609.5,409.4 L609.5,408.6 L609.5,407.8 L609.5,407.0 L609.6,406.2 L609.6,405.4 L609.6,404.6 L609.6,403.8 L609.6,403.0 L609.6,402.2 L609.6,401.4 L609.7,400.6 L609.7,399.8 L609.7,399.0 L609.7,398.2 L609.7,397.4 L609.7,396.6 L609.7,395.8 L609.8,395.0 L609.8,394.2 L609.8,393.4 L609.8,392.6 L609.8,391.8 L609.8,391.0 L609.8,390.2 L609.8,389.4 L609.9,388.6 L609.9,387.8 L609.9,386.9 L609.9,386.1 L609.9,385.3 L609.9,384.5 L609.9,383.7 L610.0,382.9 L610.0,382.1 L610.0,381.3 L610.0,380.5 L610.0,379.7 L610.0,378.9 L610.1,378.1 L610.1,377.3 L610.1,376.5 L610.1,375.7 L610.1,374.9 L610.1,374.1 L610.1,373.3 L610.2,372.5 L610.2,371.7 L610.2,370.9 L610.2,370.1 L610.2,369.3 L610.2,368.5 L610.2,367.7 L610.3,366.9 L610.3,366.1 L610.3,365.3 L610.3,364.5 L610.3,363.7 L610.3,362.9 L610.4,362.1 L610.4,361.3 L610.4,360.5 L610.4,359.7 L610.4,358.9 L610.4,358.0 L610.5,357.2 L610.5,356.4 L610.5,355.6 L610.5,354.8 L610.5,354.0 L610.5,353.2 L610.6,352.4 L610.6,351.6 L610.6,350.8 L610.6,350.0 L610.6,349.2 L610.6,348.4 L610.7,347.6 L610.7,346.8 L610.7,346.0 L610.7,345.2 L610.7,344.4 L610.7,343.6 L610.8,342.8 L610.8,342.0 L610.8,341.2 L610.8,340.4 L610.8,339.6 L610.8,338.8 L610.8,338.0 L610.9,337.2 L610.9,336.4 L610.9,335.6 L610.9,334.8 L610.9,334.0 L610.9,333.2 L611.0,332.3 L611.0,331.5 L611.0,330.7 L611.0,329.9 L611.0,329.1 L611.1,328.3 L611.1,327.5 L611.1,326.7 L611.1,325.9 L611.1,325.1 L611.2,324.3 L611.2,323.5 L611.2,322.7 L611.2,321.9 L611.3,321.1 L611.3,320.3 L611.3,319.5 L611.4,318.7 L611.4,317.9 L611.4,317.1 L611.5,316.3 L611.5,315.5 L611.6,314.7 L611.7,313.9 L611.7,313.1 L611.8,312.3 L611.9,311.5 L612.0,310.7 L612.0,309.9 L612.1,309.1 L612.2,308.3 L612.3,307.5 L612.4,306.7 L612.5,305.9 L612.6,305.1 L612.7,304.3 L612.8,303.5 L612.9,302.7 L613.0,301.9 L613.1,301.1 L613.3,300.3 L613.4,299.5 L613.5,298.8 L613.6,298.0 L613.7,297.2 L613.8,296.4 L613.9,295.6 L614.1,294.8 L614.2,294.0 L614.3,293.2 L614.5,292.4 L614.6,291.6 L614.8,290.8 L614.9,290.0 L615.1,289.2 L615.3,288.5 L615.5,287.7 L615.6,286.9 L615.8,286.1 L616.0,285.3 L616.2,284.6 L616.4,283.8 L616.7,283.0 L616.9,282.2 L617.2,281.4 L617.4,280.6 L617.7,279.9 L618.0,279.1 L618.3,278.4 L618.7,277.7 L619.0,277.0 L619.4,276.3 L619.8,275.7 L620.3,275.0 L620.9,274.3 L621.4,273.7 L622.0,273.1 L622.7,272.5 L623.3,272.1 L624.0,271.7 L624.7,271.5 L625.4,271.2 L626.1,271.0 L626.9,270.8 L627.7,270.6 L628.5,270.4 L629.4,270.3 L630.2,270.2 L631.0,270.1 L631.8,270.1 L632.6,270.1 L633.4,270.1 L634.2,270.2 L635.0,270.3 L635.8,270.4 L636.6,270.5 L637.4,270.5 L638.2,270.6 L639.0,270.7 L639.8,270.8 L640.6,271.0 L641.4,271.1 L642.2,271.2 L643.0,271.3 L643.8,271.4 L644.6,271.4 L645.4,271.4 L646.2,271.3 L647.0,271.2 L647.8,271.1 L648.5,270.9 L649.3,270.7 L650.1,270.5 L650.9,270.3 L651.7,270.1 L652.5,269.9 L653.2,269.6 L654.0,269.4 L654.8,269.2 L655.5,268.9 L656.3,268.7 L657.0,268.4 L657.8,268.0 L658.5,267.7 L659.3,267.4 L660.0,267.1 L660.8,266.8 L661.5,266.5 L662.3,266.2 L663.0,266.0 L663.8,265.8 L664.6,265.6 L665.4,265.5 L666.2,265.3 L667.0,265.1 L667.8,265.0 L668.6,264.8 L669.4,264.8 L670.2,264.7" stroke="#00ff00" stroke-width="2.5" stroke-dasharray="4.60 2.30" stroke-dashoffset="4.93"/>
<path d="M670.2,264.7 L670.9,264.7 L671.7,264.8 L672.5,264.9 L673.3,265.0 L674.1,265.2 L674.9,265.5 L675.7,265.7 L676.4,265.9 L677.2,266.3 L677.9,266.6 L678.6,267.0 L679.3,267.5 L679.9,267.9 L680.6,268.4 L681.2,268.9 L681.8,269.4 L682.4,270.0 L683.0,270.6 L683.5,271.2 L684.1,271.8 L684.6,272.4 L685.1,273.1 L685.6,273.7 L686.1,274.4 L686.5,275.0 L686.9,275.7 L687.3,276.3 L687.7,277.0 L688.1,277.7 L688.4,278.4 L688.8,279.2 L689.1,279.9 L689.4,280.6 L689.8,281.4 L690.1,282.2 L690.4,282.9 L690.6,283.7 L690.9,284.4 L691.2,285.2 L691.4,286.0 L691.7,286.7 L691.9,287.5 L692.2,288.3 L692.4,289.0 L692.6,289.8 L692.8,290.6 L693.1,291.3 L693.3,292.1 L693.5,292.9 L693.7,293.7 L693.8,294.5 L694.0,295.2 L694.2,296.0 L694.4,296.8 L694.6,297.6 L694.8,298.4 L694.9,299.2 L695.1,299.9 L695.3,300.7 L695.5,301.5 L695.6,302.3 L695.8,303.1 L696.0,303.9 L696.2,304.7 L696.4,305.4 L696.5,306.2 L696.7,307.0 L696.9,307.8 L697.1,308.6 L697.3,309.3 L697.5,310.1 L697.6,310.9 L697.8,311.7 L698.0,312.5 L698.2,313.3 L698.3,314.1 L698.5,314.8 L698.7,315.6 L698.8,316.4 L699.0,317.2 L699.1,318.0 L699.2,318.8 L699.4,319.6 L699.5,320.4 L699.7,321.2 L699.8,321.9 L699.9,322.7 L700.1,323.5 L700.2,324.3 L700.3,325.1 L700.4,325.9 L700.5,326.7 L700.7,327.5 L700.8,328.3 L700.9,329.1 L701.0,329.9 L701.1,330.7 L701.2,331.5 L701.2,332.3 L701.3,333.1 L701.4,333.9 L701.5,334.7 L701.6,335.5 L701.6,336.3 L701.7,337.1 L701.8,337.9 L701.8,338.7 L701.9,339.5 L702.0,340.3 L702.0,341.1 L702.1,341.9 L702.1,342.7 L702.2,343.5 L702.3,344.3 L702.3,345.1 L702.4,345.9 L702.4,346.7 L702.5,347.5 L702.5,348.3 L702.6,349.1 L702.6,349.9 L702.7,350.7 L702.7,351.5 L702.8,352.3 L702.9,353.1 L702.9,353.9 L703.0,354.7 L703.0,355.5 L703.1,356.3 L703.1,357.1 L703.2,357.9 L703.2,358.7 L703.3,359.5 L703.3,360.3 L703.4,361.1 L703.4,361.9 L703.5,362.7 L703.5,363.5 L703.6,364.3 L703.6,365.1 L703.7,365.9 L703.7,366.7 L703.7,367.5 L703.8,368.3 L703.8,369.1 L703.9,369.9 L703.9,370.7 L704.0,371.5 L704.0,372.3 L704.1,373.1 L704.1,373.9 L704.2,374.7 L704.2,375.5 L704.2,376.3 L704.3,377.1 L704.3,377.9 L704.4,378.7 L704.4,379.5 L704.5,380.3 L704.5,381.2 L704.6,382.0 L704.6,382.8 L704.7,383.6 L704.7,384.4 L704.8,385.2 L704.8,386.0 L704.8,386.8 L704.9,387.6 L704.9,388.4 L705.0,389.2 L705.0,390.0 L705.1,390.8 L705.1,391.6 L705.2,392.4 L705.2,393.2 L705.3,394.0 L705.3,394.8 L705.4,395.6 L705.4,396.4 L705.4,397.2 L705.5,398.0 L705.5,398.8 L705.6,399.6 L705.6,400.4 L705.7,401.2 L705.7,402.0 L705.8,402.8 L705.8,403.6 L705.9,404.4 L705.9,405.2 L706.0,404.4 L706.1,403.6 L706.2,402.8 L706.2,402.0 L706.3,401.2 L706.4,400.4 L706.5,399.6 L706.6,398.8 L706.7,398.0 L706.7,397.2 L706.8,396.4 L706.9,395.6 L707.0,394.8 L707.1,394.0 L707.2,393.2 L707.2,392.4 L707.3,391.6 L707.4,390.8 L707.5,390.0 L707.6,389.2 L707.7,388.4 L707.7,387.6 L707.8,386.8 L707.9,385.9 L708.0,385.1 L708.0,384.3 L708.1,383.5 L708.2,382.7 L708.3,381.9 L708.3,381.1 L708.4,380.3 L708.5,379.5 L708.6,378.7 L708.6,377.9 L708.7,377.1 L708.8,376.3 L708.9,375.5 L709.0,374.7 L709.0,373.9 L709.1,373.1 L709.2,372.3 L709.3,371.5 L709.4,370.7 L709.5,369.9 L709.6,369.1 L709.7,368.3 L709.8,367.5 L709.9,366.7 L710.0,365.9 L710.1,365.1 L710.2,364.3 L710.3,363.4 L710.4,362.6 L710.5,361.8 L710.6,361.0 L710.7,360.2 L710.8,359.4 L710.9,358.6 L711.0,357.8 L711.2,357.0 L711.3,356.2 L711.5,355.4 L711.6,354.6 L711.8,353.9 L712.0,353.1 L712.1,352.4 L712.3,351.6 L712.6,350.7 L712.9,349.8 L713.3,348.8 L713.6,347.9 L714.0,347.0 L714.5,346.1 L714.9,345.4 L715.3,344.8 L715.7,344.3 L716.1,344.1 L716.5,344.0" stroke="#00ff00" stroke-width="2.5" stroke-dasharray="4.60 2.30" stroke-dashoffset="6.60"/>
<path d="M716.5,344.0 L717.0,344.2 L717.4,344.6 L717.9,345.2 L718.3,346.0 L718.8,346.8 L719.2,347.7 L719.6,348.6 L720.0,349.5 L720.3,350.4 L720.6,351.2 L720.8,352.0 L721.0,352.7 L721.2,353.5 L721.3,354.3 L721.5,355.1 L721.7,355.8 L721.8,356.6 L721.9,357.4 L722.1,358.2 L722.2,359.1 L722.3,359.9 L722.4,360.7 L722.6,361.5 L722.7,362.3 L722.8,363.1 L722.9,363.9 L723.0,364.7 L723.1,365.5 L723.2,366.3 L723.3,367.1 L723.4,367.9 L723.5,368.7 L723.6,369.5 L723.7,370.3 L723.8,371.1 L723.9,371.9 L724.0,372.7 L724.1,373.5 L724.1,374.3 L724.2,375.1 L724.3,375.9 L724.4,376.7 L724.5,377.5 L724.6,378.3 L724.6,379.1 L724.7,379.9 L724.8,380.7 L724.9,381.5 L725.0,382.4 L725.0,383.2 L725.1,384.0 L725.2,384.8 L725.3,385.6 L725.4,386.4 L725.4,387.2 L725.5,388.0 L725.6,388.8 L725.7,389.6 L725.7,390.4 L725.8,391.2 L725.9,392.0 L725.9,392.8 L726.0,393.6 L726.1,394.4 L726.1,395.2 L726.2,396.0 L726.3,396.8 L726.3,397.6 L726.4,398.4 L726.5,399.2 L726.6,400.0 L726.6,400.8 L726.7,401.6 L726.8,402.4 L726.9,403.2 L727.0,404.0 L727.0,404.8 L727.1,405.6 L727.2,406.4 L727.3,407.2 L727.4,408.0 L727.5,408.8 L727.7,409.6 L727.8,410.4 L727.9,411.2 L728.0,412.0 L728.2,412.8 L728.3,413.6 L728.5,414.4 L728.6,415.2 L728.7,414.4 L728.8,413.6 L728.9,412.8 L728.9,412.0 L729.0,411.2 L729.1,410.4 L729.2,409.6 L729.3,408.8 L729.3,408.0 L729.4,407.2 L729.5,406.4 L729.6,405.6 L729.7,404.8 L729.7,404.0 L729.8,403.2 L729.9,402.4 L729.9,401.6 L730.0,400.8 L730.1,400.0 L730.1,399.2 L730.2,398.4 L730.3,397.6 L730.3,396.8 L730.4,396.0 L730.4,395.2 L730.5,394.4 L730.5,393.6 L730.6,392.8 L730.6,392.0 L730.7,391.1 L730.8,390.3 L730.8,389.5 L730.9,388.7 L730.9,387.9 L731.0,387.1 L731.0,386.3 L731.1,385.5 L731.1,384.7 L731.2,383.9 L731.3,383.1 L731.3,382.3 L731.4,381.5 L731.5,380.7 L731.5,379.9 L731.6,379.1 L731.7,378.3 L731.7,377.5 L731.8,376.7 L731.9,375.9 L732.0,375.1 L732.0,374.3 L732.1,373.5 L732.2,372.7 L732.3,371.9 L732.3,371.1 L732.4,370.3 L732.5,369.5 L732.6,368.7 L732.7,367.9 L732.7,367.1 L732.8,366.3 L732.9,365.5 L733.0,364.7 L733.1,363.9 L733.2,363.1 L733.3,362.3 L733.4,361.5 L733.6,360.7 L733.7,359.9 L733.8,359.1 L733.9,358.3 L734.0,357.5 L734.2,356.7 L734.3,355.9 L734.5,355.1 L734.6,354.3 L734.8,353.5 L735.0,352.7 L735.2,351.8 L735.4,351.0 L735.6,350.2 L735.9,349.4 L736.1,348.7 L736.4,347.9 L736.7,347.2 L737.0,346.5 L737.3,345.8 L737.6,345.2 L738.1,344.5 L738.6,343.8 L739.2,343.0 L739.9,342.4 L740.6,341.8 L741.2,341.4 L741.9,341.1" stroke="#00ff00" stroke-width="2.5" stroke-dasharray="4.60 2.30" stroke-dashoffset="1.73"/>
<path d="M741.9,341.1 L742.4,341.1 L743.0,341.4 L743.6,341.8 L744.2,342.4 L744.8,343.1 L745.4,343.9 L745.9,344.7 L746.3,345.5 L746.7,346.2 L747.0,346.9 L747.3,347.6 L747.6,348.3 L747.9,349.0 L748.1,349.8 L748.4,350.6 L748.6,351.4 L748.8,352.2 L749.0,353.0 L749.2,353.8 L749.4,354.6 L749.6,355.4 L749.8,356.2 L750.0,356.9 L750.2,357.7 L750.4,358.5 L750.6,359.3 L750.8,360.1 L751.0,360.8 L751.2,361.6 L751.4,362.4 L751.6,363.2 L751.7,364.0 L751.9,364.8 L752.1,365.6 L752.3,366.3 L752.4,367.1 L752.6,367.9 L752.8,368.7 L752.9,369.5 L753.1,370.3 L753.2,371.1 L753.4,371.9 L753.5,372.7 L753.7,373.4 L753.9,374.2 L754.0,375.0 L754.1,375.8 L754.3,376.6 L754.4,377.4 L754.6,378.2 L754.7,379.0 L754.8,379.8 L755.0,380.6 L755.1,381.4 L755.2,382.2 L755.4,383.0 L755.5,383.8 L755.6,384.5 L755.7,385.3 L755.8,386.1 L755.9,386.9 L756.0,387.7 L756.2,388.5 L756.3,389.3 L756.4,390.1 L756.5,390.9 L756.6,391.7 L756.7,392.5 L756.8,393.3 L757.0,394.1 L757.1,394.9 L757.2,395.7 L757.3,396.5 L757.5,397.3 L757.6,398.1 L757.7,398.9 L757.9,399.7 L758.0,400.5 L758.2,401.3 L758.3,402.0 L758.5,402.8 L758.6,403.6 L758.8,404.4 L758.9,405.2 L759.1,406.0 L759.2,406.8 L759.4,407.6 L759.6,408.4 L759.7,409.1 L759.9,409.9 L760.1,410.7 L760.2,411.5 L760.4,412.3 L760.6,413.1 L760.8,413.9 L761.0,414.6 L761.1,415.4 L761.3,416.2 L761.5,417.0 L762.0,416.3 L762.4,415.6 L762.9,415.0 L763.3,414.3 L763.7,413.6 L764.0,412.8 L764.3,412.1 L764.5,411.3 L764.8,410.6 L765.0,409.8 L765.3,409.1 L765.5,408.3 L765.7,407.5 L765.9,406.7 L766.1,405.9 L766.3,405.1 L766.5,404.3 L766.7,403.5 L766.9,402.7 L767.1,401.9 L767.2,401.1 L767.4,400.3 L767.6,399.5 L767.8,398.8 L768.0,398.0 L768.1,397.2 L768.3,396.4 L768.5,395.6 L768.6,394.8 L768.8,394.0 L768.9,393.2 L769.1,392.4 L769.2,391.6 L769.4,390.8 L769.5,390.0 L769.7,389.2 L769.8,388.4 L770.0,387.6 L770.1,386.8 L770.3,386.0 L770.5,385.3 L770.7,384.5 L770.8,383.7 L771.0,382.9 L771.2,382.0 L771.4,381.2 L771.6,380.4 L771.8,379.5 L772.0,378.7 L772.2,377.9 L772.5,377.2 L772.7,376.4 L773.0,375.7 L773.3,375.0 L773.7,374.4 L774.2,373.8 L774.9,373.1 L775.6,372.5 L776.3,372.1 L776.9,371.9" stroke="#00ff00" stroke-width="2.5" stroke-dasharray="4.60 2.30" stroke-dashoffset="0.00"/>
<path d="M776.9,371.9 L777.5,372.1 L778.1,372.5 L778.7,373.2 L779.3,373.9 L779.8,374.7 L780.2,375.5 L780.6,376.1 L780.8,376.9 L781.1,377.6 L781.3,378.4 L781.6,379.2 L781.8,380.0 L782.0,380.8 L782.1,381.6 L782.3,382.4 L782.5,383.2 L782.6,384.0 L782.8,384.8 L783.0,385.6 L783.1,386.4 L783.2,387.2 L783.4,388.0 L783.5,388.8 L783.6,389.6 L783.7,390.4 L783.9,391.2 L784.0,392.0 L784.1,392.8 L784.2,393.6 L784.3,394.4 L784.3,395.2 L784.4,396.0 L784.5,396.8 L784.6,397.6 L784.7,398.5 L784.7,399.3 L784.8,400.1 L784.9,400.9 L785.0,401.7 L785.0,402.5 L785.1,403.3 L785.1,404.1 L785.2,404.9 L785.2,405.7 L785.3,406.5 L785.4,407.3 L785.4,408.1 L785.5,408.9 L785.5,409.8 L785.5,410.6 L785.6,411.4 L785.6,412.2 L785.7,413.0 L785.7,413.8 L785.8,414.6 L785.8,415.4 L785.9,416.2 L785.9,417.0 L786.0,417.8 L786.0,418.6 L786.1,419.5 L786.1,420.3 L786.2,421.1 L786.2,421.9 L786.3,422.7 L786.3,423.5 L786.4,424.3 L786.4,425.1 L786.5,425.9 L786.5,426.7 L786.6,427.6 L786.6,428.4 L786.7,429.2 L786.7,430.0 L786.8,430.8 L786.8,431.6 L786.9,432.4 L786.9,433.2 L787.0,434.0 L787.1,434.9 L787.1,435.7 L787.2,436.5 L787.3,437.3 L787.3,438.1 L787.4,438.9 L787.5,439.7 L787.6,440.5 L787.7,441.3 L787.8,442.1 L787.9,442.9 L788.0,443.7 L788.1,444.5 L788.2,445.2 L788.4,446.0 L788.6,446.8 L788.8,447.6 L789.0,448.4 L789.3,449.2 L789.5,449.9 L789.8,450.7 L790.0,451.5 L790.0,450.7 L790.1,449.9 L790.1,449.1 L790.2,448.3 L790.2,447.5 L790.3,446.7 L790.3,445.8 L790.4,445.0 L790.4,444.2 L790.5,443.4 L790.5,442.6 L790.6,441.8 L790.6,441.0 L790.7,440.2 L790.7,439.4 L790.8,438.6 L790.8,437.8 L790.9,437.0 L791.0,436.2 L791.0,435.4 L791.1,434.5 L791.1,433.7 L791.2,432.9 L791.2,432.1 L791.3,431.3 L791.3,430.5 L791.3,429.7 L791.4,428.9 L791.4,428.1 L791.5,427.3 L791.5,426.5 L791.6,425.7 L791.6,424.9 L791.7,424.1 L791.8,423.2 L791.8,422.4 L791.9,421.6 L792.0,420.8 L792.0,420.0 L792.1,419.2 L792.1,418.3 L792.2,417.5 L792.3,416.6 L792.3,415.8 L792.4,414.9 L792.5,414.1 L792.6,413.3 L792.7,412.5 L792.8,411.8 L793.0,411.0 L793.1,410.3 L793.3,409.6 L793.8,408.8 L794.5,408.1 L795.1,407.7 L795.7,407.8 L796.3,408.3 L796.9,409.0 L797.5,409.8 L797.8,410.6 L798.0,411.3 L798.1,412.0 L798.2,412.8 L798.3,413.7 L798.4,414.5 L798.5,415.3 L798.6,416.2 L798.6,417.0 L798.7,417.8 L798.8,418.6 L798.8,419.4 L798.9,420.2 L798.9,421.0 L799.0,421.8 L799.0,422.6 L799.1,423.4 L799.1,424.2 L799.2,425.0 L799.2,425.8 L799.3,426.7 L799.3,427.5 L799.4,428.3 L799.4,429.1 L799.4,429.9 L799.5,430.7 L799.5,431.5 L799.6,432.3 L799.6,433.1 L799.6,433.9 L799.7,434.7 L799.7,435.5 L799.8,436.3 L799.8,437.2 L799.8,438.0 L799.9,438.8 L799.9,439.6 L799.9,440.4 L800.0,441.2 L800.0,442.0" stroke="#00ff00" stroke-width="2.5" stroke-dasharray="4.60 2.30" stroke-dashoffset="4.45"/>
<path d="M69.7,69.6 L70.5,69.6 L71.3,69.6 L72.1,69.6 L72.9,69.6 L73.7,69.6 L74.5,69.6 L75.3,69.6 L76.1,69.6 L76.9,69.6 L77.7,69.6 L78.5,69.6 L79.3,69.6 L80.1,69.6 L80.9,69.6 L81.7,69.6 L82.5,69.6 L83.3,69.6 L84.1,69.6 L84.9,69.6 L85.7,69.6 L86.5,69.6 L87.3,69.6 L88.1,69.6 L88.9,69.6 L89.7,69.6 L90.5,69.6 L91.3,69.6 L92.1,69.6 L92.9,69.6 L93.7,69.6 L94.5,69.6 L95.3,69.6 L96.1,69.6 L96.9,69.6 L97.7,69.6 L98.5,69.6 L99.3,69.7 L100.1,69.7 L101.0,69.7 L101.8,69.7 L102.6,69.7 L103.4,69.7 L104.2,69.7 L105.0,69.7 L105.8,69.7 L106.6,69.7 L107.4,69.7 L108.2,69.7 L109.0,69.7 L109.8,69.7 L110.6,69.7 L111.4,69.7 L112.2,69.7 L113.0,69.7 L113.8,69.7 L114.6,69.7 L115.4,69.7 L116.2,69.7 L117.0,69.7 L117.8,69.7 L118.6,69.7 L119.4,69.7 L120.2,69.7 L121.0,69.7 L121.8,69.7 L122.6,69.7 L123.4,69.7 L124.2,69.7 L125.0,69.7 L125.8,69.7 L126.6,69.7 L127.4,69.7 L128.2,69.7 L129.0,69.7 L129.8,69.7 L130.6,69.7 L131.4,69.7 L132.2,69.7 L133.0,69.7 L133.8,69.7 L134.6,69.7 L135.4,69.7 L136.2,69.7 L137.0,69.7 L137.8,69.7 L138.6,69.7 L139.4,69.7 L140.2,69.7 L141.0,69.7 L141.8,69.8 L142.6,69.8 L143.4,69.8 L144.2,69.8 L145.0,69.8 L145.8,69.8 L146.6,69.8 L147.4,69.8 L148.2,69.8 L149.0,69.8 L149.8,69.8 L150.6,69.8 L151.4,69.8 L152.2,69.8 L153.0,69.8 L153.8,69.8 L154.6,69.8 L155.4,69.8 L156.2,69.8 L157.0,69.8 L157.8,69.8 L158.6,69.8 L159.4,69.8 L160.2,69.8 L161.0,69.8 L161.8,69.8 L162.7,69.8 L163.5,69.8 L164.3,69.8 L165.1,69.8 L165.9,69.8 L166.7,69.8 L167.5,69.8 L168.3,69.8 L169.1,69.8 L169.9,69.8 L170.7,69.8 L171.5,69.8 L172.3,69.8 L173.1,69.8 L173.9,69.8 L174.7,69.8 L175.5,69.8 L176.3,69.8 L177.1,69.8 L177.9,69.9 L178.7,69.9 L179.5,69.9 L180.3,69.9 L181.1,69.9 L181.9,69.9 L182.7,69.9 L183.5,69.9 L184.3,69.9 L185.1,69.9 L185.9,69.9 L186.7,69.9 L187.5,69.9 L188.3,69.9 L189.1,69.9 L189.9,69.9 L190.7,69.9 L191.5,69.9 L192.3,69.9 L193.1,69.9 L193.9,69.9 L194.7,69.9 L195.5,69.9 L196.3,69.9 L197.1,69.9 L197.9,69.9 L198.7,69.9 L199.5,69.9 L200.3,69.9 L201.1,69.9 L201.9,69.9 L202.7,69.9 L203.5,69.9 L204.3,69.9 L205.1,69.9 L205.9,69.9 L206.7,69.9 L207.5,69.9 L208.3,69.9 L209.1,70.0 L209.9,70.0 L210.7,70.0 L211.5,70.0 L212.3,70.0 L213.1,70.0 L213.9,70.0 L214.7,70.0 L215.5,70.0 L216.3,70.0 L217.1,70.0 L217.9,70.0 L218.7,70.0 L219.5,70.0 L220.3,70.0 L221.1,70.0 L221.9,70.0 L222.7,70.0 L223.5,70.0 L224.4,70.0 L225.2,70.0 L226.0,70.0 L226.8,70.0 L227.6,70.0 L228.4,70.0 L229.2,70.0 L230.0,70.0 L230.8,70.0 L231.6,70.1 L232.4,70.1 L233.2,70.1 L234.0,70.1 L234.8,70.1 L235.6,70.1 L236.4,70.1 L237.2,70.1 L238.0,70.1 L238.8,70.1 L239.6,70.1 L240.4,70.1 L241.2,70.1 L242.0,70.1 L242.8,70.1 L243.6,70.1 L244.4,70.1 L245.2,70.1 L246.0,70.1 L246.8,70.1 L247.6,70.2 L248.4,70.2 L249.2,70.2 L250.0,70.2 L250.8,70.2 L251.6,70.2 L252.4,70.2 L253.2,70.2 L254.0,70.2 L254.8,70.2 L255.6,70.2 L256.4,70.2 L257.2,70.2 L258.0,70.2 L258.8,70.3 L259.6,70.3 L260.4,70.3 L261.2,70.3 L262.0,70.3 L262.8,70.3 L263.6,70.3 L264.4,70.3 L265.2,70.3 L266.0,70.3 L266.8,70.3 L267.6,70.3 L268.4,70.4 L269.2,70.4 L270.0,70.4 L270.8,70.4 L271.6,70.4 L272.4,70.4 L273.2,70.4 L274.0,70.4 L274.8,70.4 L275.6,70.4 L276.4,70.5 L277.2,70.5 L278.0,70.5 L278.8,70.5 L279.6,70.5 L280.4,70.5 L281.2,70.5 L282.0,70.5 L282.8,70.5 L283.6,70.6 L284.4,70.6 L285.2,70.6 L286.0,70.6 L286.8,70.6 L287.7,70.6 L288.5,70.6 L289.3,70.6 L290.1,70.7 L290.9,70.7 L291.7,70.7 L292.5,70.7 L293.3,70.7 L294.1,70.7 L294.9,70.7 L295.7,70.7 L296.5,70.8 L297.3,70.8 L298.1,70.8 L298.9,70.8 L299.7,70.8 L300.5,70.8 L301.3,70.8 L302.1,70.9 L302.9,70.9 L303.7,70.9 L304.5,70.9 L305.3,70.9 L306.1,70.9 L306.9,70.9 L307.7,71.0 L308.5,71.0 L309.3,71.0 L310.1,71.0 L310.9,71.0 L311.7,71.0 L312.5,71.0 L313.3,71.1 L314.1,71.1 L314.9,71.1 L315.7,71.1 L316.5,71.1 L317.3,71.2 L318.1,71.2 L318.9,71.2 L319.7,71.2 L320.5,71.2 L321.3,71.2 L322.1,71.3 L322.9,71.3 L323.7,71.3 L324.5,71.3 L325.3,71.4 L326.1,71.4 L326.9,71.4 L327.7,71.4 L328.5,71.4 L329.3,71.5 L330.1,71.5 L330.9,71.5 L331.7,71.5 L332.5,71.6 L333.3,71.6 L334.1,71.6 L334.9,71.6 L335.7,71.7 L336.5,71.7 L337.3,71.7 L338.1,71.8 L338.9,71.8 L339.7,71.8 L340.5,71.8 L341.3,71.9 L342.1,71.9 L342.9,71.9 L343.7,72.0 L344.5,72.0 L345.3,72.0 L346.1,72.0 L346.9,72.1 L347.7,72.1 L348.5,72.1 L349.3,72.2 L350.1,72.2 L350.9,72.2 L351.7,72.3 L352.5,72.3 L353.3,72.3 L354.1,72.4 L354.9,72.4 L355.7,72.5 L356.5,72.5 L357.3,72.5 L358.1,72.6 L358.9,72.6 L359.7,72.7 L360.5,72.7 L361.3,72.8 L362.1,72.8 L362.9,72.9 L363.7,72.9 L364.5,73.0 L365.3,73.0 L366.1,73.1 L366.9,73.1 L367.7,73.2 L368.5,73.2 L369.3,73.3 L370.1,73.3 L370.9,73.4 L371.7,73.4 L372.5,73.5 L373.3,73.5 L374.1,73.6 L374.9,73.7 L375.7,73.7 L376.5,73.8 L377.3,73.8 L378.1,73.9 L378.9,73.9 L379.7,74.0 L380.5,74.0 L381.3,74.1 L382.1,74.1 L382.9,74.2 L383.7,74.2 L384.5,74.3 L385.3,74.4 L386.1,74.4 L386.9,74.5 L387.7,74.5 L388.5,74.6 L389.3,74.6 L390.1,74.7 L390.9,74.7 L391.7,74.8 L392.5,74.8 L393.3,74.9 L394.1,75.0 L394.9,75.0 L395.7,75.1 L396.5,75.1 L397.3,75.2 L398.1,75.3 L398.9,75.3 L399.7,75.4 L400.5,75.4 L401.3,75.5 L402.1,75.6 L402.9,75.6 L403.7,75.7 L404.5,75.8 L405.3,75.8 L406.1,75.9 L406.9,76.0 L407.7,76.0 L408.5,76.1 L409.3,76.2 L410.1,76.2 L410.9,76.3 L411.7,76.4 L412.5,76.5 L413.3,76.6 L414.1,76.6 L414.9,76.7 L415.7,76.8 L416.5,76.9 L417.3,77.0 L418.1,77.1 L418.9,77.2 L419.6,77.3 L420.4,77.4 L421.2,77.5 L422.0,77.6 L422.8,77.7 L423.6,77.8 L424.4,77.9 L425.2,78.0 L426.0,78.1 L426.8,78.2 L427.6,78.3 L428.4,78.4 L429.2,78.5 L430.0,78.7 L430.8,78.8 L431.6,78.9 L432.4,79.0 L433.2,79.2 L433.9,79.3 L434.7,79.4 L435.5,79.5 L436.3,79.7 L437.1,79.8 L437.9,79.9 L438.7,80.1 L439.5,80.2 L440.3,80.3 L441.1,80.5 L441.9,80.6 L442.6,80.7 L443.4,80.9 L444.2,81.0 L445.0,81.1 L445.8,81.3 L446.6,81.4 L447.4,81.6 L448.2,81.7 L448.9,81.9 L449.7,82.0 L450.5,82.2 L451.3,82.3 L452.1,82.5 L452.9,82.6 L453.7,82.8 L454.4,83.0 L455.2,83.1 L456.0,83.3 L456.8,83.5 L457.6,83.6 L458.4,83.8 L459.1,84.0 L459.9,84.2 L460.7,84.3 L461.5,84.5 L462.3,84.7 L463.0,84.9 L463.8,85.1 L464.6,85.3 L465.4,85.5 L466.2,85.6 L466.9,85.8 L467.7,86.0 L468.5,86.2 L469.3,86.4 L470.1,86.6 L470.8,86.8 L471.6,87.0 L472.4,87.2 L473.2,87.4 L473.9,87.6 L474.7,87.8 L475.5,88.0 L476.3,88.3 L477.0,88.5 L477.8,88.7 L478.6,88.9 L479.4,89.1 L480.1,89.3 L480.9,89.5 L481.7,89.7 L482.4,89.9 L483.2,90.2 L484.0,90.4 L484.8,90.6 L485.5,90.8 L486.3,91.0 L487.1,91.3 L487.8,91.5 L488.6,91.7 L489.4,92.0 L490.1,92.2 L490.9,92.4 L491.7,92.7 L492.4,92.9 L493.2,93.2 L494.0,93.4 L494.7,93.7 L495.5,93.9 L496.3,94.2 L497.0,94.4 L497.8,94.7 L498.5,95.0 L499.3,95.2 L500.0,95.5 L500.8,95.8 L501.5,96.1 L502.3,96.3 L503.0,96.6 L503.8,96.9 L504.5,97.2 L505.3,97.5 L506.0,97.8 L506.7,98.1 L507.5,98.4 L508.2,98.8 L508.9,99.1 L509.7,99.4 L510.4,99.8 L511.1,100.1 L511.8,100.5 L512.6,100.8 L513.3,101.2 L514.0,101.5 L514.7,101.9 L515.4,102.3 L516.1,102.6 L516.9,103.0 L517.6,103.4 L518.3,103.8 L519.0,104.1 L519.7,104.5 L520.4,104.9 L521.1,105.3 L521.8,105.7 L522.5,106.1 L523.2,106.5 L523.9,106.9 L524.5,107.3 L525.2,107.8 L525.9,108.2 L526.6,108.6 L527.2,109.1 L527.9,109.5 L528.5,110.0 L529.2,110.4 L529.8,110.9 L530.5,111.4 L531.1,111.9 L531.7,112.4 L532.4,112.9 L533.0,113.4 L533.6,113.9 L534.3,114.4 L534.9,114.9 L535.5,115.4 L536.1,116.0 L536.7,116.5 L537.3,117.0 L537.9,117.6 L538.5,118.1 L539.1,118.6 L539.7,119.2 L540.2,119.7 L540.8,120.3 L541.4,120.8 L541.9,121.4 L542.5,122.0 L543.1,122.6 L543.6,123.1 L544.2,123.7 L544.7,124.3 L545.3,124.9 L545.8,125.5 L546.3,126.1 L546.9,126.7 L547.4,127.3 L547.9,127.9 L548.4,128.5 L548.9,129.2 L549.4,129.8 L549.9,130.4 L550.5,131.0 L551.0,131.6 L551.4,132.3 L551.9,132.9 L552.4,133.5 L552.9,134.2 L553.4,134.8 L553.9,135.5 L554.3,136.1 L554.8,136.8 L555.3,137.4 L555.7,138.1 L556.2,138.7 L556.6,139.4 L557.1,140.1 L557.5,140.7 L557.9,141.4 L558.4,142.1 L558.8,142.8 L559.2,143.5 L559.6,144.2 L560.0,144.9 L560.4,145.6 L560.8,146.3 L561.1,147.0 L561.5,147.7 L561.8,148.4 L562.2,149.1 L562.5,149.9 L562.8,150.6 L563.2,151.3 L563.5,152.1 L563.8,152.8 L564.1,153.5 L564.5,154.3 L564.8,155.0 L565.1,155.7 L565.4,156.5 L565.7,157.2 L566.0,158.0 L566.3,158.7 L566.6,159.5 L566.9,160.2 L567.2,161.0 L567.5,161.7 L567.7,162.5 L568.0,163.2 L568.3,164.0 L568.6,164.7 L568.9,165.5 L569.1,166.2 L569.4,167.0 L569.7,167.7 L570.0,168.5 L570.2,169.2 L570.5,170.0 L570.8,170.7 L571.0,171.5 L571.3,172.3 L571.5,173.0 L571.8,173.8 L572.0,174.5 L572.3,175.3 L572.5,176.1 L572.7,176.8 L573.0,177.6 L573.2,178.4 L573.4,179.1 L573.7,179.9 L573.9,180.7 L574.1,181.5 L574.3,182.2 L574.5,183.0 L574.7,183.8 L574.8,184.6 L575.0,185.3 L575.2,186.1 L575.3,186.9 L575.5,187.7 L575.6,188.5 L575.8,189.3 L575.9,190.1 L576.1,190.8 L576.2,191.6 L576.4,192.4 L576.5,193.2 L576.6,194.0 L576.8,194.8 L576.9,195.6 L577.0,196.4 L577.1,197.2 L577.3,198.0 L577.4,198.8 L577.5,199.6 L577.6,200.4 L577.7,201.1 L577.8,201.9 L577.9,202.7 L578.0,203.5 L578.1,204.3 L578.2,205.1 L578.3,205.9 L578.4,206.7 L578.5,207.5 L578.6,208.3 L578.7,209.1 L578.8,209.9 L578.9,210.7 L579.0,211.5 L579.1,212.3 L579.2,213.1 L579.3,213.9 L579.3,214.7 L579.4,215.5 L579.5,216.3 L579.6,217.1 L579.7,217.9 L579.7,218.7 L579.8,219.5 L579.9,220.3 L579.9,221.1 L580.0,221.9 L580.1,222.7 L580.2,223.4 L580.2,224.2 L580.3,225.0 L580.3,225.8 L580.4,226.6 L580.5,227.4 L580.5,228.2 L580.6,229.0 L580.6,229.8 L580.7,230.6 L580.7,231.4 L580.8,232.2 L580.8,233.0 L580.9,233.8 L580.9,234.6 L581.0,235.4 L581.0,236.2 L581.1,237.0 L581.1,237.8 L581.2,238.6 L581.2,239.4 L581.3,240.2 L581.4,241.0 L581.4,241.8 L581.5,242.6 L581.5,243.4 L581.6,244.2 L581.7,245.0 L581.7,245.8 L581.8,246.6 L581.9,247.4 L581.9,248.2 L582.0,249.0 L582.1,249.8 L582.1,250.6 L582.2,251.4 L582.3,252.2 L582.3,253.0 L582.4,253.8 L582.4,254.6 L582.5,255.4 L582.6,256.2 L582.6,257.0 L582.7,257.8 L582.8,258.6 L582.8,259.4 L582.9,260.2 L582.9,261.0 L583.0,261.8 L583.0,262.6 L583.1,263.4 L583.1,264.2 L583.2,265.0 L583.3,265.8 L583.3,266.6 L583.4,267.4 L583.4,268.2 L583.5,269.0 L583.5,269.8 L583.6,270.6 L583.6,271.4 L583.7,272.2 L583.7,273.0 L583.8,273.8 L583.8,274.6 L583.9,275.4 L583.9,276.2 L584.0,277.0 L584.0,277.8 L584.0,278.6 L584.1,279.4 L584.1,280.2 L584.2,281.0 L584.2,281.8 L584.3,282.6 L584.3,283.4 L584.4,284.2 L584.4,285.0 L584.4,284.2 L584.5,283.4 L584.5,282.6 L584.5,281.8 L584.6,281.0 L584.6,280.2 L584.7,279.4 L584.7,278.6 L584.7,277.8 L584.8,277.0 L584.8,276.2 L584.8,275.4 L584.9,274.6 L584.9,273.8 L585.0,273.0 L585.0,272.2 L585.0,271.4 L585.1,270.6 L585.1,269.8 L585.1,269.0 L585.2,268.2 L585.2,267.4 L585.3,266.6 L585.3,265.8 L585.3,265.0 L585.4,264.2 L585.4,263.4 L585.5,262.6 L585.5,261.8 L585.6,260.9 L585.6,260.1 L585.6,259.3 L585.7,258.5 L585.7,257.7 L585.8,256.9 L585.8,256.1 L585.8,255.3 L585.9,254.5 L585.9,253.7 L586.0,252.9 L586.0,252.1 L586.1,251.3 L586.1,250.5 L586.1,249.7 L586.2,248.9 L586.2,248.1 L586.3,247.3 L586.3,246.5 L586.4,245.7 L586.4,244.9 L586.5,244.1 L586.5,243.3 L586.6,242.5 L586.6,241.7 L586.6,240.9 L586.7,240.1 L586.7,239.3 L586.8,238.5 L586.8,237.7 L586.9,236.9 L587.0,236.1 L587.0,235.3 L587.1,234.5 L587.1,233.7 L587.2,232.9 L587.2,232.1 L587.3,231.3 L587.3,230.5 L587.4,229.7 L587.5,228.9 L587.5,228.1 L587.6,227.3 L587.6,226.5 L587.7,225.7 L587.8,224.9 L587.8,224.1 L587.9,223.3 L588.0,222.5 L588.0,221.7 L588.1,220.9 L588.2,220.1 L588.2,219.3 L588.3,218.5 L588.4,217.7 L588.4,216.9 L588.5,216.1 L588.6,215.3 L588.6,214.5 L588.7,213.7 L588.8,212.9 L588.9,212.1 L589.0,211.3 L589.0,210.5 L589.1,209.7 L589.2,208.9 L589.3,208.1 L589.4,207.3 L589.5,206.5 L589.6,205.7 L589.7,204.9 L589.9,204.1 L590.0,203.4 L590.1,202.6 L590.3,201.8 L590.4,201.0 L590.6,200.2 L590.7,199.4 L590.9,198.6 L591.1,197.8 L591.3,197.0 L591.5,196.3 L591.7,195.5 L591.9,194.7 L592.1,193.9 L592.3,193.1 L592.5,192.4 L592.7,191.6 L592.9,190.8 L593.2,190.0 L593.4,189.3 L593.6,188.5 L593.9,187.8 L594.1,187.0 L594.3,186.2 L594.6,185.5 L594.8,184.7 L595.1,184.0 L595.4,183.2 L595.7,182.4 L596.0,181.7 L596.2,180.9 L596.5,180.2 L596.9,179.4 L597.2,178.7 L597.5,177.9 L597.8,177.2 L598.2,176.5 L598.5,175.7 L598.8,175.0 L599.2,174.3 L599.5,173.6 L599.9,172.9 L600.3,172.1 L600.6,171.4 L601.0,170.7 L601.4,170.0 L601.8,169.3 L602.2,168.6 L602.6,167.9 L603.0,167.3 L603.5,166.6 L603.9,165.9 L604.4,165.2 L604.8,164.5 L605.3,163.9 L605.8,163.3 L606.3,162.6 L606.8,162.0 L607.3,161.4 L607.8,160.8 L608.4,160.2 L608.9,159.6 L609.5,159.0 L610.1,158.4 L610.7,157.9 L611.3,157.3 L611.9,156.7 L612.5,156.2 L613.2,155.7 L613.8,155.2 L614.5,154.7 L615.2,154.3 L615.8,154.0 L616.5,153.7 L617.2,153.4 L618.0,153.1 L618.7,152.9 L619.5,152.6 L620.3,152.4 L621.1,152.1 L621.9,151.9 L622.7,151.8 L623.5,151.6 L624.3,151.5 L625.1,151.4" stroke="#0000ff" stroke-width="2.5" stroke-dasharray="2.47 3.28"/>
<path d="M625.1,151.4 L625.9,151.4 L626.7,151.4 L627.4,151.5 L628.2,151.6 L629.0,151.7 L629.8,151.9 L630.6,152.1 L631.4,152.3 L632.2,152.6 L633.0,152.9 L633.7,153.2 L634.5,153.5 L635.3,153.8 L636.0,154.1 L636.8,154.5 L637.5,154.8 L638.2,155.1 L638.9,155.4 L639.6,155.8 L640.3,156.2 L641.0,156.6 L641.6,157.0 L642.3,157.5 L643.0,158.0 L643.6,158.5 L644.3,159.0 L644.9,159.5 L645.5,160.1 L646.1,160.6 L646.7,161.2 L647.3,161.8 L647.8,162.3 L648.4,162.9 L648.9,163.5 L649.4,164.0 L649.9,164.7 L650.4,165.3 L650.9,165.9 L651.4,166.6 L651.9,167.2 L652.3,167.9 L652.8,168.6 L653.3,169.2 L653.7,169.9 L654.1,170.6 L654.5,171.3 L655.0,172.0 L655.4,172.7 L655.7,173.4 L656.1,174.1 L656.5,174.8 L656.8,175.6 L657.2,176.3 L657.5,177.0 L657.8,177.7 L658.2,178.5 L658.5,179.2 L658.8,179.9 L659.1,180.7 L659.4,181.5 L659.7,182.2 L659.9,183.0 L660.2,183.7 L660.5,184.5 L660.7,185.3 L661.0,186.0 L661.2,186.8 L661.5,187.5 L661.7,188.3 L661.9,189.1 L662.2,189.8 L662.4,190.6 L662.6,191.4 L662.8,192.2 L663.0,192.9 L663.2,193.7 L663.4,194.5 L663.6,195.3 L663.8,196.1 L664.0,196.8 L664.1,197.6 L664.3,198.4 L664.5,199.2 L664.7,200.0 L664.9,200.8 L665.0,201.6 L665.2,202.3 L665.4,203.1 L665.5,203.9 L665.7,204.7 L665.9,205.5 L666.0,206.3 L666.2,207.0 L666.4,207.8 L666.5,208.6 L666.7,209.4 L666.9,210.2 L667.0,211.0 L667.2,211.8 L667.3,212.6 L667.5,213.3 L667.6,214.1 L667.8,214.9 L667.9,215.7 L668.1,216.5 L668.2,217.3 L668.4,218.1 L668.5,218.9 L668.6,219.7 L668.8,220.5 L668.9,221.2 L669.0,222.0 L669.1,222.8 L669.2,223.6 L669.4,224.4 L669.5,225.2 L669.6,226.0 L669.7,226.8 L669.8,227.6 L669.9,228.4 L670.0,229.2 L670.1,230.0 L670.2,230.8 L670.3,231.6 L670.4,232.4 L670.5,233.2 L670.6,234.0 L670.6,234.8 L670.7,235.6 L670.8,236.4 L670.9,237.2 L671.0,238.0 L671.1,238.8 L671.1,239.6 L671.2,240.4 L671.3,241.2 L671.4,242.0 L671.4,242.8 L671.5,243.6 L671.6,244.4 L671.7,245.2 L671.7,246.0 L671.8,246.8 L671.9,247.6 L671.9,248.4 L672.0,249.2 L672.1,250.0 L672.1,250.8 L672.2,251.6 L672.2,252.4 L672.3,253.2 L672.3,254.0 L672.4,254.8 L672.4,255.6 L672.5,256.4 L672.5,257.2 L672.6,258.0 L672.6,258.8 L672.7,259.6 L672.7,260.4 L672.8,261.2 L672.8,262.0 L672.8,262.8 L672.9,263.6 L672.9,264.4 L673.0,265.2 L673.0,266.0 L673.0,266.8 L673.1,267.6 L673.1,268.4 L673.2,269.2 L673.2,270.0 L673.2,270.8 L673.3,271.6 L673.3,272.4 L673.4,273.2 L673.4,274.0 L673.5,274.8 L673.5,275.6 L673.6,276.4 L673.6,277.2 L673.7,278.0 L673.7,278.8 L673.8,279.6 L673.9,280.4 L673.9,281.2 L674.0,282.0 L674.0,282.8 L674.1,283.6 L674.2,284.4 L674.3,285.2 L674.3,286.0 L674.4,286.8 L674.5,287.6 L674.6,288.4 L674.6,289.2 L674.7,290.0 L674.8,290.8 L674.9,290.0 L675.0,289.2 L675.1,288.4 L675.2,287.6 L675.3,286.8 L675.4,286.0 L675.5,285.2 L675.6,284.4 L675.7,283.6 L675.8,282.8 L675.9,282.0 L676.1,281.2 L676.2,280.4 L676.3,279.6 L676.5,278.8 L676.6,278.1 L676.7,277.3 L676.8,276.5 L676.8,275.7 L676.9,274.9 L677.0,274.1 L677.0,273.3 L677.1,272.4 L677.2,271.6 L677.2,270.8 L677.3,270.0 L677.3,269.2 L677.4,268.4 L677.4,267.6 L677.5,266.8 L677.5,266.0 L677.6,265.2 L677.6,264.4 L677.7,263.6 L677.7,262.8 L677.8,262.0 L677.9,261.2 L677.9,260.4 L678.0,259.6 L678.0,258.8 L678.1,258.0 L678.2,257.2 L678.2,256.4 L678.3,255.6 L678.4,254.8 L678.4,254.0 L678.5,253.2 L678.5,252.4 L678.6,251.6 L678.7,250.8 L678.7,250.0 L678.8,249.2 L678.8,248.4 L678.9,247.6 L678.9,246.8 L679.0,246.0 L679.0,245.2 L679.1,244.4 L679.1,243.6 L679.2,242.8 L679.3,242.0 L679.3,241.2 L679.4,240.4 L679.5,239.6 L679.6,238.8 L679.7,238.0 L679.7,237.2 L679.8,236.4 L679.9,235.6 L680.0,234.8 L680.1,234.0 L680.2,233.2 L680.4,232.4 L680.5,231.6 L680.6,230.8 L680.7,230.0 L680.8,229.2 L680.9,228.4 L681.1,227.6 L681.2,226.8 L681.3,226.0 L681.5,225.2 L681.6,224.4 L681.7,223.6 L681.9,222.8 L682.1,222.1 L682.2,221.3 L682.4,220.5 L682.6,219.7 L682.8,218.9 L683.0,218.1 L683.2,217.4 L683.3,216.6 L683.5,215.8 L683.7,215.0 L683.9,214.2 L684.1,213.4 L684.3,212.6 L684.6,211.8 L684.8,211.1 L685.0,210.3 L685.2,209.5 L685.5,208.7 L685.7,208.0 L686.0,207.2 L686.3,206.5 L686.6,205.7 L686.8,205.0 L687.2,204.3 L687.5,203.6 L687.8,202.8 L688.2,202.0 L688.6,201.3 L689.0,200.5 L689.4,199.8 L689.9,199.0 L690.3,198.3 L690.8,197.6 L691.3,197.0 L691.8,196.4 L692.4,195.8 L692.9,195.3 L693.5,194.9 L694.1,194.5 L694.7,194.1 L695.5,193.7 L696.2,193.3 L697.0,193.0 L697.9,192.7 L698.7,192.5 L699.4,192.3" stroke="#0000ff" stroke-width="2.5" stroke-dasharray="2.47 3.28" stroke-dashoffset="0.22"/>
<path d="M699.4,192.3 L700.2,192.3 L700.9,192.4 L701.6,192.6 L702.3,192.9 L703.1,193.2 L703.8,193.7 L704.5,194.2 L705.3,194.7 L705.9,195.3 L706.6,195.9 L707.2,196.5 L707.8,197.1 L708.3,197.7 L708.8,198.2 L709.3,198.8 L709.7,199.4 L710.1,200.0 L710.5,200.7 L710.9,201.4 L711.3,202.1 L711.6,202.8 L712.0,203.6 L712.3,204.4 L712.6,205.1 L712.9,205.9 L713.2,206.7 L713.5,207.5 L713.8,208.3 L714.1,209.1 L714.4,209.8 L714.6,210.6 L714.9,211.4 L715.2,212.1 L715.4,212.9 L715.7,213.6 L715.9,214.4 L716.2,215.2 L716.4,215.9 L716.6,216.7 L716.9,217.5 L717.1,218.3 L717.3,219.0 L717.5,219.8 L717.7,220.6 L717.9,221.4 L718.1,222.2 L718.3,223.0 L718.5,223.7 L718.6,224.5 L718.8,225.3 L718.9,226.1 L719.1,226.9 L719.2,227.7 L719.3,228.5 L719.4,229.3 L719.5,230.1 L719.7,230.9 L719.8,231.7 L719.9,232.5 L720.0,233.3 L720.1,234.1 L720.2,234.9 L720.3,235.7 L720.3,236.5 L720.4,237.3 L720.5,238.1 L720.6,238.9 L720.7,239.7 L720.8,240.5 L720.9,241.3 L721.1,242.1 L721.2,242.9 L721.3,243.6 L721.4,244.4 L721.5,245.2 L721.6,246.0 L721.7,246.8 L721.8,247.6 L721.9,248.4 L722.0,249.2 L722.0,250.0 L722.1,250.8 L722.2,251.6 L722.3,252.4 L722.4,253.2 L722.5,254.0 L722.6,254.8 L722.7,255.6 L722.8,256.4 L722.8,257.2 L722.9,258.0 L723.0,258.8 L723.1,259.6 L723.1,260.4 L723.2,261.2 L723.3,262.0 L723.3,262.8 L723.4,263.6 L723.5,264.4 L723.5,265.2 L723.6,266.0 L723.7,266.8 L723.7,267.6 L723.8,268.4 L723.9,269.2 L723.9,270.1 L724.0,270.9 L724.0,271.7 L724.1,272.5 L724.1,273.3 L724.2,274.1 L724.2,274.9 L724.3,275.7 L724.4,276.5 L724.4,277.3 L724.5,278.1 L724.5,278.9 L724.6,279.7 L724.6,280.5 L724.6,281.3 L724.7,282.1 L724.7,282.9 L724.8,283.7 L724.8,284.5 L724.9,285.3 L724.9,286.1 L725.0,286.9 L725.0,287.7 L725.0,288.5 L725.1,289.3 L725.1,290.1 L725.2,290.9 L725.2,291.7 L725.2,292.5 L725.3,293.3 L725.3,294.1 L725.4,294.9 L725.4,295.7 L725.4,296.5 L725.5,297.4 L725.5,298.2 L725.5,299.0 L725.6,299.8 L725.6,300.6 L725.7,301.4 L725.7,302.2 L725.7,303.0 L725.7,303.8 L725.8,304.6 L725.8,305.4 L725.8,306.2 L725.9,307.0 L725.9,307.8 L725.9,308.6 L726.0,309.4 L726.0,310.2 L726.0,311.0 L726.0,311.8 L726.0,312.6 L726.1,313.4 L726.1,314.2 L726.1,315.0 L726.1,315.8 L726.2,316.6 L726.2,317.4 L726.2,318.3 L726.2,319.1 L726.3,319.9 L726.3,320.7 L726.3,321.5 L726.3,322.3 L726.3,323.1 L726.4,323.9 L726.4,324.7 L726.4,325.5 L726.4,326.3 L726.4,327.1 L726.5,327.9 L726.5,328.7 L726.5,329.5 L726.5,330.3 L726.5,331.1 L726.6,331.9 L726.6,332.7 L726.6,333.5 L726.6,334.3 L726.6,335.1 L726.6,335.9 L726.7,336.7 L726.7,337.5 L726.7,338.4 L726.7,339.2 L726.7,340.0 L726.7,340.8 L726.7,341.6 L726.7,342.4 L726.8,343.2 L726.8,344.0 L726.8,344.8 L726.8,345.6 L726.8,346.4 L726.8,347.2 L726.8,346.4 L726.8,345.6 L726.8,344.8 L726.9,344.0 L726.9,343.2 L726.9,342.4 L726.9,341.6 L726.9,340.8 L727.0,340.0 L727.0,339.2 L727.0,338.3 L727.0,337.5 L727.0,336.7 L727.1,335.9 L727.1,335.1 L727.1,334.3 L727.1,333.5 L727.1,332.7 L727.2,331.9 L727.2,331.1 L727.2,330.3 L727.2,329.5 L727.3,328.7 L727.3,327.9 L727.3,327.1 L727.3,326.3 L727.3,325.5 L727.4,324.7 L727.4,323.9 L727.4,323.1 L727.4,322.3 L727.5,321.4 L727.5,320.6 L727.5,319.8 L727.6,319.0 L727.6,318.2 L727.6,317.4 L727.6,316.6 L727.7,315.8 L727.7,315.0 L727.7,314.2 L727.7,313.4 L727.8,312.6 L727.8,311.8 L727.8,311.0 L727.9,310.2 L727.9,309.4 L727.9,308.6 L727.9,307.8 L728.0,307.0 L728.0,306.2 L728.0,305.4 L728.1,304.6 L728.1,303.7 L728.1,302.9 L728.2,302.1 L728.2,301.3 L728.2,300.5 L728.2,299.7 L728.3,298.9 L728.3,298.1 L728.3,297.3 L728.4,296.5 L728.4,295.7 L728.4,294.9 L728.5,294.1 L728.5,293.3 L728.5,292.5 L728.6,291.7 L728.6,290.9 L728.7,290.1 L728.7,289.3 L728.7,288.5 L728.8,287.7 L728.8,286.9 L728.9,286.1 L728.9,285.3 L728.9,284.4 L729.0,283.6 L729.0,282.8 L729.1,282.0 L729.1,281.2 L729.1,280.4 L729.2,279.6 L729.2,278.8 L729.3,278.0 L729.3,277.2 L729.4,276.4 L729.4,275.6 L729.4,274.8 L729.5,274.0 L729.5,273.2 L729.6,272.4 L729.6,271.6 L729.7,270.8 L729.7,270.0 L729.8,269.2 L729.8,268.4 L729.8,267.6 L729.9,266.8 L729.9,266.0 L730.0,265.2 L730.0,264.3 L730.1,263.5 L730.1,262.7 L730.2,261.9 L730.3,261.1 L730.3,260.3 L730.4,259.5 L730.4,258.7 L730.5,257.9 L730.6,257.1 L730.6,256.3 L730.7,255.5 L730.8,254.7 L730.8,253.9 L730.9,253.1 L731.0,252.3 L731.1,251.5 L731.2,250.7 L731.3,249.9 L731.4,249.1 L731.5,248.3 L731.6,247.5 L731.7,246.7 L731.8,245.9 L731.9,245.1 L732.1,244.3 L732.2,243.5 L732.3,242.7 L732.4,241.9 L732.5,241.2 L732.7,240.4 L732.8,239.6 L732.9,238.8 L733.1,238.0 L733.2,237.2 L733.3,236.4 L733.5,235.6 L733.6,234.8 L733.8,234.0 L733.9,233.2 L734.1,232.4 L734.3,231.6 L734.5,230.9 L734.6,230.1 L734.8,229.3 L735.0,228.5 L735.2,227.7 L735.5,227.0 L735.7,226.2 L735.9,225.4 L736.2,224.6 L736.5,223.9 L736.8,223.1 L737.1,222.4 L737.4,221.7 L737.8,220.9 L738.2,220.2 L738.6,219.5 L739.0,218.8 L739.5,218.2 L740.0,217.6 L740.6,217.0 L741.2,216.4 L741.8,215.8 L742.5,215.2 L743.2,214.8 L743.9,214.4 L744.7,214.2" stroke="#0000ff" stroke-width="2.5" stroke-dasharray="2.47 3.28" stroke-dashoffset="3.55"/>
<path d="M744.7,214.2 L745.4,214.2 L746.1,214.4 L746.9,214.7 L747.7,215.1 L748.5,215.6 L749.1,216.0 L749.6,216.5 L750.1,217.0 L750.5,217.6 L750.9,218.3 L751.3,219.0 L751.7,219.8 L752.0,220.6 L752.4,221.4 L752.7,222.2 L753.0,223.0 L753.3,223.8 L753.6,224.5 L753.9,225.2 L754.2,226.0 L754.5,226.8 L754.7,227.5 L755.0,228.3 L755.3,229.0 L755.5,229.8 L755.8,230.6 L756.0,231.4 L756.2,232.1 L756.4,232.9 L756.6,233.7 L756.8,234.5 L757.0,235.2 L757.1,236.0 L757.3,236.8 L757.4,237.6 L757.6,238.4 L757.7,239.2 L757.9,240.0 L758.0,240.8 L758.1,241.6 L758.3,242.4 L758.4,243.2 L758.5,244.0 L758.6,244.8 L758.7,245.6 L758.9,246.4 L759.0,247.2 L759.1,248.0 L759.2,248.8 L759.3,249.6 L759.4,250.4 L759.5,251.2 L759.6,251.9 L759.7,252.7 L759.8,253.5 L759.9,254.3 L760.0,255.1 L760.1,255.9 L760.2,256.7 L760.3,257.5 L760.4,258.3 L760.5,259.1 L760.6,259.9 L760.7,260.7 L760.8,261.5 L760.9,262.3 L761.0,263.1 L761.1,263.9 L761.2,264.7 L761.2,265.5 L761.3,266.3 L761.4,267.1 L761.5,267.9 L761.6,268.7 L761.7,269.5 L761.8,270.3 L761.9,271.1 L761.9,271.9 L762.0,272.7 L762.1,273.5 L762.2,274.3 L762.3,275.1 L762.4,275.9 L762.5,276.7 L762.6,277.5 L762.6,278.3 L762.7,279.1 L762.8,279.9 L762.9,280.7 L763.0,281.5 L763.1,282.3 L763.2,283.1 L763.2,283.9 L763.3,284.7 L763.4,285.5 L763.5,286.3 L763.6,287.1 L763.6,288.0 L763.7,288.8 L763.8,289.6 L763.9,290.4 L764.0,291.2 L764.0,292.0 L764.1,292.8 L764.2,293.6 L764.3,294.4 L764.4,295.2 L764.4,296.0 L764.5,296.8 L764.6,297.6 L764.7,298.4 L764.8,299.2 L764.8,300.0 L764.9,300.8 L765.0,301.6 L765.1,302.4 L765.1,303.2 L765.2,304.0 L765.3,304.8 L765.4,305.6 L765.4,306.4 L765.5,307.2 L765.6,308.0 L765.7,308.8 L765.7,309.6 L765.8,310.4 L765.9,311.2 L765.9,312.0 L766.0,312.8 L766.1,313.6 L766.2,314.4 L766.2,315.2 L766.3,316.0 L766.4,315.2 L766.4,314.4 L766.5,313.6 L766.5,312.8 L766.5,312.0 L766.6,311.2 L766.6,310.4 L766.7,309.6 L766.7,308.8 L766.8,308.0 L766.8,307.2 L766.9,306.4 L766.9,305.6 L767.0,304.8 L767.0,304.0 L767.1,303.2 L767.1,302.4 L767.2,301.6 L767.2,300.8 L767.3,300.0 L767.3,299.2 L767.4,298.4 L767.4,297.6 L767.5,296.8 L767.5,296.0 L767.5,295.2 L767.6,294.4 L767.6,293.6 L767.7,292.8 L767.7,292.0 L767.8,291.2 L767.8,290.4 L767.8,289.6 L767.9,288.7 L767.9,287.9 L768.0,287.1 L768.0,286.3 L768.0,285.5 L768.1,284.7 L768.1,283.9 L768.2,283.1 L768.2,282.3 L768.2,281.5 L768.3,280.7 L768.3,279.9 L768.4,279.1 L768.4,278.3 L768.5,277.5 L768.5,276.7 L768.6,275.9 L768.6,275.1 L768.7,274.3 L768.7,273.5 L768.8,272.7 L768.8,271.9 L768.9,271.1 L769.0,270.3 L769.0,269.5 L769.1,268.7 L769.2,267.9 L769.2,267.1 L769.3,266.3 L769.4,265.5 L769.4,264.7 L769.5,263.9 L769.6,263.1 L769.7,262.3 L769.8,261.5 L769.9,260.7 L769.9,259.9 L770.0,259.1 L770.1,258.3 L770.2,257.5 L770.3,256.7 L770.4,255.9 L770.6,255.1 L770.7,254.3 L770.8,253.6 L770.9,252.8 L771.1,252.0 L771.2,251.2 L771.3,250.4 L771.5,249.6 L771.7,248.8 L771.8,248.0 L772.0,247.2 L772.2,246.4 L772.4,245.7 L772.6,244.9 L772.8,244.1 L773.0,243.3 L773.2,242.5 L773.5,241.7 L773.8,240.9 L774.0,240.1 L774.4,239.3 L774.7,238.5 L775.0,237.8 L775.4,237.2 L775.8,236.5 L776.2,236.0 L776.7,235.4 L777.4,234.8 L778.1,234.3 L778.8,233.8 L779.6,233.4 L780.3,233.2" stroke="#0000ff" stroke-width="2.5" stroke-dasharray="2.47 3.28" stroke-dashoffset="1.80"/>
<path d="M780.3,233.2 L780.9,233.2 L781.6,233.5 L782.3,234.0 L782.9,234.6 L783.5,235.3 L784.1,236.0 L784.5,236.8 L784.9,237.4 L785.2,238.1 L785.5,238.8 L785.7,239.5 L786.0,240.2 L786.2,241.0 L786.5,241.8 L786.7,242.6 L786.9,243.4 L787.1,244.2 L787.3,245.0 L787.4,245.9 L787.6,246.7 L787.8,247.5 L787.9,248.3 L788.1,249.1 L788.3,249.8 L788.4,250.6 L788.6,251.4 L788.7,252.2 L788.9,253.0 L789.0,253.8 L789.1,254.6 L789.3,255.4 L789.4,256.2 L789.5,257.0 L789.6,257.8 L789.7,258.6 L789.8,259.3 L790.0,260.1 L790.1,260.9 L790.2,261.7 L790.3,262.5 L790.4,263.3 L790.5,264.1 L790.6,264.9 L790.7,265.7 L790.7,266.5 L790.8,267.3 L790.9,268.1 L791.0,268.9 L791.1,269.7 L791.2,270.5 L791.3,271.3 L791.3,272.1 L791.4,272.9 L791.5,273.7 L791.6,274.5 L791.6,275.3 L791.7,276.1 L791.8,276.9 L791.8,277.7 L791.9,278.5 L791.9,279.3 L792.0,280.1 L792.0,280.9 L792.1,281.7 L792.2,282.5 L792.2,283.3 L792.3,284.1 L792.3,284.9 L792.4,285.7 L792.4,286.5 L792.4,287.3 L792.5,288.1 L792.5,288.9 L792.6,289.7 L792.6,290.5 L792.6,291.3 L792.7,292.1 L792.7,292.9 L792.8,293.7 L792.8,294.5 L792.8,295.3 L792.8,296.1 L792.9,296.9 L792.9,297.7 L792.9,298.5 L792.9,299.4 L793.0,300.2 L793.0,301.0 L793.0,301.8 L793.0,302.6 L793.1,303.4 L793.1,304.2 L793.1,305.0 L793.1,305.8 L793.1,306.6 L793.2,307.4 L793.2,308.2 L793.2,309.0 L793.2,309.8 L793.2,310.6 L793.3,311.4 L793.3,312.2 L793.3,313.0 L793.3,313.8 L793.3,314.6 L793.3,315.4 L793.4,316.2 L793.4,317.0 L793.4,317.8 L793.4,318.6 L793.4,319.4 L793.4,320.2 L793.5,321.0 L793.5,321.8 L793.5,322.6 L793.5,323.4 L793.5,324.2 L793.5,325.0 L793.6,325.8 L793.6,326.6 L793.6,327.4 L793.6,328.2 L793.6,329.0 L793.6,329.9 L793.7,330.7 L793.7,331.5 L793.7,332.3 L793.7,333.1 L793.7,333.9 L793.7,334.7 L793.7,335.5 L793.8,336.3 L793.8,337.1 L793.8,337.9 L793.8,338.7 L793.8,339.5 L793.8,340.3 L793.8,341.1 L793.9,341.9 L793.9,342.7 L793.9,343.5 L793.9,344.3 L793.9,345.1 L793.9,345.9 L793.9,346.7 L794.0,347.5 L794.0,348.3 L794.0,349.1 L794.0,349.9 L794.0,350.7 L794.0,351.5 L794.1,352.3 L794.1,353.1 L794.1,353.9 L794.1,354.7 L794.1,355.5 L794.1,356.3 L794.1,357.1 L794.2,357.9 L794.2,358.7 L794.2,359.6 L794.2,360.4 L794.2,361.2 L794.2,362.0 L794.3,362.8 L794.3,363.6 L794.3,364.4 L794.3,365.2 L794.3,366.0 L794.3,366.8 L794.4,367.6 L794.4,368.4 L794.4,369.2 L794.4,370.0 L794.4,370.8 L794.4,371.6 L794.5,372.4 L794.5,373.2 L794.5,374.0 L794.5,374.8 L794.5,375.6 L794.5,376.4 L794.6,377.2 L794.6,378.0 L794.6,378.8 L794.6,379.6 L794.6,380.4 L794.7,381.2 L794.7,382.0 L794.7,382.8 L794.7,383.6 L794.7,384.4 L794.7,385.2 L794.8,386.0 L794.8,386.8 L794.8,387.6 L794.8,388.4 L794.8,389.3 L794.9,390.1 L794.9,390.9 L794.9,391.7 L794.9,392.5 L794.9,393.3 L794.9,394.1 L795.0,394.9 L795.0,395.7 L795.0,396.5 L795.0,397.3 L795.0,398.1 L795.1,398.9 L795.1,399.7 L795.1,400.5 L795.1,401.3 L795.1,402.1 L795.2,402.9 L795.2,403.7 L795.2,404.5 L795.2,403.7 L795.2,402.9 L795.3,402.1 L795.3,401.3 L795.3,400.5 L795.3,399.7 L795.4,398.9 L795.4,398.1 L795.4,397.3 L795.4,396.4 L795.5,395.6 L795.5,394.8 L795.5,394.0 L795.5,393.2 L795.6,392.4 L795.6,391.6 L795.6,390.8 L795.6,390.0 L795.6,389.2 L795.7,388.4 L795.7,387.6 L795.7,386.8 L795.7,386.0 L795.8,385.2 L795.8,384.4 L795.8,383.6 L795.8,382.8 L795.9,382.0 L795.9,381.1 L795.9,380.3 L795.9,379.5 L796.0,378.7 L796.0,377.9 L796.0,377.1 L796.0,376.3 L796.0,375.5 L796.1,374.7 L796.1,373.9 L796.1,373.1 L796.1,372.3 L796.2,371.5 L796.2,370.7 L796.2,369.9 L796.2,369.1 L796.2,368.3 L796.3,367.5 L796.3,366.7 L796.3,365.8 L796.3,365.0 L796.4,364.2 L796.4,363.4 L796.4,362.6 L796.4,361.8 L796.5,361.0 L796.5,360.2 L796.5,359.4 L796.5,358.6 L796.5,357.8 L796.6,357.0 L796.6,356.2 L796.6,355.4 L796.6,354.6 L796.7,353.8 L796.7,353.0 L796.7,352.2 L796.7,351.4 L796.7,350.5 L796.8,349.7 L796.8,348.9 L796.8,348.1 L796.8,347.3 L796.8,346.5 L796.9,345.7 L796.9,344.9 L796.9,344.1 L796.9,343.3 L797.0,342.5 L797.0,341.7 L797.0,340.9 L797.0,340.1 L797.0,339.3 L797.1,338.5 L797.1,337.7 L797.1,336.9 L797.1,336.1 L797.2,335.2 L797.2,334.4 L797.2,333.6 L797.2,332.8 L797.2,332.0 L797.3,331.2 L797.3,330.4 L797.3,329.6 L797.3,328.8 L797.4,328.0 L797.4,327.2 L797.4,326.4 L797.4,325.6 L797.4,324.8 L797.5,324.0 L797.5,323.2 L797.5,322.4 L797.5,321.6 L797.5,320.7 L797.6,319.9 L797.6,319.1 L797.6,318.3 L797.6,317.5 L797.6,316.7 L797.7,315.9 L797.7,315.1 L797.7,314.3 L797.7,313.5 L797.7,312.7 L797.7,311.9 L797.8,311.1 L797.8,310.3 L797.8,309.5 L797.8,308.7 L797.8,307.9 L797.9,307.1 L797.9,306.3 L797.9,305.4 L797.9,304.6 L798.0,303.8 L798.0,303.0 L798.0,302.2 L798.0,301.4 L798.0,300.6 L798.1,299.8 L798.1,299.0 L798.1,298.2 L798.1,297.4 L798.2,296.6 L798.2,295.8 L798.2,295.0 L798.2,294.2 L798.3,293.4 L798.3,292.6 L798.3,291.8 L798.4,291.0 L798.4,290.1 L798.4,289.3 L798.5,288.5 L798.5,287.7 L798.5,286.9 L798.6,286.1 L798.6,285.3 L798.7,284.5 L798.7,283.7 L798.8,282.9 L798.8,282.1 L798.9,281.3 L798.9,280.5 L799.0,279.7 L799.0,278.9 L799.0,278.1 L799.1,277.3 L799.1,276.5 L799.2,275.7 L799.2,274.9 L799.3,274.1 L799.3,273.3 L799.3,272.5 L799.4,271.6 L799.4,270.8 L799.5,270.0 L799.5,269.2 L799.6,268.4 L799.6,267.6 L799.7,266.8 L799.7,266.0 L799.8,265.2 L799.8,264.4 L799.9,263.6 L799.9,262.8 L800.0,262.0" stroke="#0000ff" stroke-width="2.5" stroke-dasharray="2.47 3.28" stroke-dashoffset="3.44"/>
<path d="M69.7,69.6 L70.5,69.6 L71.3,69.6 L72.1,69.6 L72.9,69.6 L73.7,69.6 L74.5,69.6 L75.3,69.6 L76.1,69.6 L76.9,69.6 L77.7,69.6 L78.5,69.6 L79.3,69.6 L80.1,69.6 L80.9,69.6 L81.7,69.6 L82.5,69.6 L83.3,69.6 L84.1,69.6 L84.9,69.6 L85.7,69.6 L86.5,69.6 L87.3,69.6 L88.1,69.6 L88.9,69.6 L89.7,69.6 L90.5,69.6 L91.3,69.6 L92.1,69.6 L92.9,69.6 L93.7,69.6 L94.5,69.6 L95.3,69.6 L96.1,69.6 L96.9,69.6 L97.7,69.6 L98.5,69.6 L99.3,69.6 L100.1,69.6 L100.9,69.6 L101.8,69.6 L102.6,69.6 L103.4,69.6 L104.2,69.6 L105.0,69.6 L105.8,69.6 L106.6,69.6 L107.4,69.6 L108.2,69.6 L109.0,69.6 L109.8,69.6 L110.6,69.6 L111.4,69.6 L112.2,69.6 L113.0,69.6 L113.8,69.6 L114.6,69.6 L115.4,69.6 L116.2,69.6 L117.0,69.6 L117.8,69.6 L118.6,69.6 L119.4,69.6 L120.2,69.6 L121.0,69.6 L121.8,69.6 L122.6,69.6 L123.4,69.6 L124.2,69.6 L125.0,69.6 L125.8,69.6 L126.6,69.6 L127.4,69.6 L128.2,69.6 L129.0,69.6 L129.8,69.7 L130.6,69.7 L131.4,69.7 L132.2,69.7 L133.0,69.7 L133.8,69.7 L134.6,69.7 L135.4,69.7 L136.2,69.7 L137.0,69.7 L137.8,69.7 L138.6,69.7 L139.4,69.7 L140.2,69.7 L141.0,69.7 L141.8,69.7 L142.6,69.7 L143.4,69.7 L144.2,69.7 L145.0,69.7 L145.8,69.7 L146.6,69.7 L147.4,69.7 L148.2,69.7 L149.0,69.7 L149.8,69.7 L150.6,69.7 L151.4,69.7 L152.2,69.7 L153.0,69.7 L153.8,69.7 L154.6,69.7 L155.4,69.7 L156.2,69.7 L157.0,69.7 L157.8,69.7 L158.6,69.7 L159.4,69.7 L160.2,69.7 L161.0,69.7 L161.8,69.7 L162.6,69.7 L163.4,69.7 L164.2,69.7 L165.1,69.7 L165.9,69.7 L166.7,69.7 L167.5,69.7 L168.3,69.7 L169.1,69.7 L169.9,69.7 L170.7,69.7 L171.5,69.7 L172.3,69.7 L173.1,69.7 L173.9,69.7 L174.7,69.7 L175.5,69.7 L176.3,69.7 L177.1,69.7 L177.9,69.7 L178.7,69.7 L179.5,69.7 L180.3,69.8 L181.1,69.8 L181.9,69.8 L182.7,69.8 L183.5,69.8 L184.3,69.8 L185.1,69.8 L185.9,69.8 L186.7,69.8 L187.5,69.8 L188.3,69.8 L189.1,69.8 L189.9,69.8 L190.7,69.8 L191.5,69.8 L192.3,69.8 L193.1,69.8 L193.9,69.8 L194.7,69.8 L195.5,69.8 L196.3,69.8 L197.1,69.8 L197.9,69.8 L198.7,69.8 L199.5,69.8 L200.3,69.8 L201.1,69.8 L201.9,69.8 L202.7,69.8 L203.5,69.8 L204.3,69.8 L205.1,69.8 L205.9,69.9 L206.7,69.9 L207.5,69.9 L208.3,69.9 L209.1,69.9 L209.9,69.9 L210.7,69.9 L211.5,69.9 L212.3,69.9 L213.1,69.9 L213.9,69.9 L214.7,69.9 L215.5,69.9 L216.3,69.9 L217.1,69.9 L217.9,69.9 L218.7,69.9 L219.5,69.9 L220.3,69.9 L221.1,69.9 L221.9,69.9 L222.7,69.9 L223.5,69.9 L224.3,69.9 L225.1,69.9 L225.9,69.9 L226.7,69.9 L227.6,69.9 L228.4,70.0 L229.2,70.0 L230.0,70.0 L230.8,70.0 L231.6,70.0 L232.4,70.0 L233.2,70.0 L234.0,70.0 L234.8,70.0 L235.6,70.0 L236.4,70.0 L237.2,70.0 L238.0,70.0 L238.8,70.0 L239.6,70.0 L240.4,70.0 L241.2,70.0 L242.0,70.0 L242.8,70.0 L243.6,70.0 L244.4,70.0 L245.2,70.0 L246.0,70.0 L246.8,70.0 L247.6,70.0 L248.4,70.0 L249.2,70.0 L250.0,70.0 L250.8,70.0 L251.6,70.0 L252.4,70.0 L253.2,70.0 L254.0,70.1 L254.8,70.1 L255.6,70.1 L256.4,70.1 L257.2,70.1 L258.0,70.1 L258.8,70.1 L259.6,70.1 L260.4,70.1 L261.2,70.1 L262.0,70.1 L262.8,70.1 L263.6,70.1 L264.4,70.1 L265.2,70.1 L266.0,70.1 L266.8,70.1 L267.6,70.1 L268.4,70.1 L269.2,70.1 L270.0,70.1 L270.8,70.1 L271.6,70.1 L272.4,70.1 L273.2,70.1 L274.0,70.1 L274.8,70.1 L275.6,70.1 L276.4,70.1 L277.2,70.1 L278.0,70.1 L278.8,70.1 L279.6,70.1 L280.4,70.1 L281.2,70.2 L282.0,70.2 L282.8,70.2 L283.6,70.2 L284.4,70.2 L285.2,70.2 L286.0,70.2 L286.8,70.2 L287.6,70.2 L288.4,70.2 L289.2,70.2 L290.0,70.2 L290.9,70.2 L291.7,70.2 L292.5,70.2 L293.3,70.2 L294.1,70.2 L294.9,70.2 L295.7,70.2 L296.5,70.2 L297.3,70.2 L298.1,70.2 L298.9,70.2 L299.7,70.2 L300.5,70.2 L301.3,70.2 L302.1,70.3 L302.9,70.3 L303.7,70.3 L304.5,70.3 L305.3,70.3 L306.1,70.3 L306.9,70.3 L307.7,70.3 L308.5,70.3 L309.3,70.3 L310.1,70.3 L310.9,70.3 L311.7,70.3 L312.5,70.3 L313.3,70.3 L314.1,70.3 L314.9,70.3 L315.7,70.3 L316.5,70.3 L317.3,70.4 L318.1,70.4 L318.9,70.4 L319.7,70.4 L320.5,70.4 L321.3,70.4 L322.1,70.4 L322.9,70.4 L323.7,70.4 L324.5,70.4 L325.3,70.4 L326.1,70.4 L326.9,70.5 L327.7,70.5 L328.5,70.5 L329.3,70.5 L330.1,70.5 L330.9,70.5 L331.7,70.5 L332.5,70.5 L333.3,70.5 L334.1,70.5 L334.9,70.6 L335.7,70.6 L336.5,70.6 L337.3,70.6 L338.1,70.6 L338.9,70.6 L339.7,70.6 L340.5,70.6 L341.3,70.6 L342.1,70.7 L342.9,70.7 L343.7,70.7 L344.5,70.7 L345.3,70.7 L346.1,70.7 L346.9,70.7 L347.7,70.7 L348.5,70.7 L349.3,70.8 L350.1,70.8 L350.9,70.8 L351.7,70.8 L352.5,70.8 L353.3,70.8 L354.1,70.8 L354.9,70.9 L355.7,70.9 L356.6,70.9 L357.4,70.9 L358.2,70.9 L359.0,70.9 L359.8,70.9 L360.6,70.9 L361.4,71.0 L362.2,71.0 L363.0,71.0 L363.8,71.0 L364.6,71.0 L365.4,71.0 L366.2,71.0 L367.0,71.1 L367.8,71.1 L368.6,71.1 L369.4,71.1 L370.2,71.1 L371.0,71.1 L371.8,71.1 L372.6,71.2 L373.4,71.2 L374.2,71.2 L375.0,71.2 L375.8,71.2 L376.6,71.2 L377.4,71.3 L378.2,71.3 L379.0,71.3 L379.8,71.3 L380.6,71.3 L381.4,71.3 L382.2,71.3 L383.0,71.4 L383.8,71.4 L384.6,71.4 L385.4,71.4 L386.2,71.4 L387.0,71.4 L387.8,71.4 L388.6,71.5 L389.4,71.5 L390.2,71.5 L391.0,71.5 L391.8,71.5 L392.6,71.5 L393.4,71.6 L394.2,71.6 L395.0,71.6 L395.8,71.6 L396.6,71.6 L397.4,71.6 L398.2,71.7 L399.0,71.7 L399.8,71.7 L400.6,71.7 L401.4,71.7 L402.2,71.7 L403.0,71.8 L403.8,71.8 L404.6,71.8 L405.4,71.8 L406.2,71.8 L407.0,71.9 L407.8,71.9 L408.6,71.9 L409.4,71.9 L410.2,71.9 L411.0,71.9 L411.8,72.0 L412.6,72.0 L413.4,72.0 L414.2,72.0 L415.0,72.1 L415.8,72.1 L416.6,72.1 L417.4,72.1 L418.2,72.1 L419.0,72.2 L419.8,72.2 L420.6,72.2 L421.4,72.2 L422.2,72.2 L423.0,72.3 L423.8,72.3 L424.7,72.3 L425.5,72.3 L426.3,72.4 L427.1,72.4 L427.9,72.4 L428.7,72.4 L429.5,72.5 L430.3,72.5 L431.1,72.5 L431.9,72.5 L432.7,72.6 L433.5,72.6 L434.3,72.6 L435.1,72.6 L435.9,72.7 L436.7,72.7 L437.5,72.7 L438.3,72.8 L439.1,72.8 L439.9,72.8 L440.7,72.8 L441.5,72.9 L442.3,72.9 L443.1,72.9 L443.9,73.0 L444.7,73.0 L445.5,73.0 L446.3,73.1 L447.1,73.1 L447.9,73.1 L448.7,73.1 L449.5,73.2 L450.3,73.2 L451.1,73.3 L451.9,73.3 L452.7,73.3 L453.5,73.4 L454.3,73.4 L455.1,73.5 L455.9,73.5 L456.7,73.6 L457.5,73.6 L458.3,73.7 L459.1,73.7 L459.9,73.8 L460.7,73.8 L461.5,73.9 L462.3,73.9 L463.1,74.0 L463.9,74.0 L464.7,74.1 L465.5,74.1 L466.3,74.2 L467.1,74.3 L467.9,74.3 L468.7,74.4 L469.5,74.4 L470.3,74.5 L471.1,74.6 L471.9,74.6 L472.7,74.7 L473.5,74.8 L474.3,74.8 L475.1,74.9 L475.9,75.0 L476.7,75.0 L477.5,75.1 L478.2,75.2 L479.0,75.2 L479.8,75.3 L480.6,75.4 L481.4,75.4 L482.2,75.5 L483.0,75.6 L483.8,75.6 L484.6,75.7 L485.4,75.8 L486.2,75.9 L487.0,75.9 L487.8,76.0 L488.6,76.1 L489.4,76.2 L490.2,76.2 L491.0,76.3 L491.8,76.4 L492.6,76.5 L493.4,76.6 L494.2,76.7 L495.0,76.8 L495.8,76.8 L496.6,76.9 L497.4,77.0 L498.2,77.1 L499.0,77.2 L499.8,77.3 L500.6,77.4 L501.4,77.5 L502.2,77.6 L503.0,77.7 L503.8,77.8 L504.5,77.9 L505.3,78.0 L506.1,78.1 L506.9,78.2 L507.7,78.3 L508.5,78.4 L509.3,78.5 L510.1,78.6 L510.9,78.7 L511.7,78.8 L512.5,78.9 L513.3,79.0 L514.1,79.1 L514.9,79.2 L515.7,79.4 L516.5,79.5 L517.3,79.6 L518.0,79.7 L518.8,79.8 L519.6,80.0 L520.4,80.1 L521.2,80.2 L522.0,80.3 L522.8,80.5 L523.6,80.6 L524.4,80.7 L525.2,80.8 L526.0,81.0 L526.8,81.1 L527.5,81.2 L528.3,81.4 L529.1,81.5 L529.9,81.6 L530.7,81.8 L531.5,81.9 L532.3,82.0 L533.1,82.2 L533.9,82.3 L534.6,82.5 L535.4,82.6 L536.2,82.8 L537.0,82.9 L537.8,83.1 L538.6,83.2 L539.4,83.4 L540.2,83.5 L540.9,83.7 L541.7,83.8 L542.5,84.0 L543.3,84.1 L544.1,84.3 L544.9,84.5 L545.7,84.6 L546.4,84.8 L547.2,85.0 L548.0,85.1 L548.8,85.3 L549.6,85.5 L550.4,85.6 L551.1,85.8 L551.9,86.0 L552.7,86.2 L553.5,86.3 L554.3,86.5 L555.0,86.7 L555.8,86.9 L556.6,87.1 L557.4,87.2 L558.2,87.4 L558.9,87.6 L559.7,87.8 L560.5,88.0 L561.3,88.2 L562.1,88.4 L562.8,88.6 L563.6,88.8 L564.4,89.0 L565.2,89.2 L565.9,89.4 L566.7,89.6 L567.5,89.8 L568.3,90.0 L569.0,90.2 L569.8,90.4 L570.6,90.7 L571.4,90.9 L572.1,91.1 L572.9,91.3 L573.7,91.5 L574.4,91.7 L575.2,92.0 L576.0,92.2 L576.7,92.4 L577.5,92.6 L578.3,92.9 L579.0,93.1 L579.8,93.3 L580.6,93.6 L581.3,93.8 L582.1,94.1 L582.9,94.3 L583.6,94.5 L584.4,94.8 L585.2,95.0 L585.9,95.3 L586.7,95.5 L587.5,95.8 L588.2,96.0 L589.0,96.3 L589.7,96.6 L590.5,96.8 L591.3,97.1 L592.0,97.4 L592.8,97.6 L593.5,97.9 L594.3,98.2 L595.0,98.5 L595.8,98.7 L596.5,99.0 L597.3,99.3 L598.0,99.6 L598.8,99.9 L599.5,100.2 L600.2,100.5 L601.0,100.8 L601.7,101.1 L602.4,101.4 L603.2,101.7 L603.9,102.1 L604.6,102.4 L605.4,102.7 L606.1,103.0 L606.8,103.4 L607.5,103.7 L608.3,104.1 L609.0,104.4 L609.7,104.8 L610.4,105.1 L611.2,105.5 L611.9,105.8 L612.6,106.2 L613.3,106.6 L614.0,106.9 L614.8,107.3 L615.5,107.7 L616.2,108.0 L616.9,108.4 L617.6,108.8 L618.3,109.2 L619.0,109.6 L619.7,110.0 L620.4,110.3 L621.1,110.7 L621.8,111.1 L622.5,111.5 L623.2,111.9 L623.9,112.3 L624.6,112.7 L625.3,113.1 L626.0,113.5 L626.7,113.9 L627.3,114.3 L628.0,114.7 L628.7,115.1 L629.4,115.5 L630.1,116.0 L630.8,116.4 L631.4,116.8 L632.1,117.2 L632.8,117.7 L633.5,118.1 L634.1,118.5 L634.8,119.0 L635.5,119.4 L636.2,119.9 L636.8,120.3 L637.5,120.8 L638.2,121.2 L638.8,121.7 L639.5,122.1 L640.1,122.6 L640.8,123.0 L641.5,123.5 L642.1,124.0 L642.8,124.4 L643.4,124.9 L644.1,125.3 L644.7,125.8 L645.4,126.3 L646.1,126.7 L646.7,127.2 L647.3,127.7 L648.0,128.2 L648.6,128.6 L649.3,129.1 L649.9,129.6 L650.6,130.1 L651.2,130.5 L651.9,131.0 L652.5,131.5 L653.1,132.0 L653.8,132.5 L654.4,133.0 L655.0,133.4 L655.7,133.9 L656.3,134.4 L656.9,134.9 L657.5,135.4 L658.2,135.9 L658.8,136.4 L659.4,137.0 L660.0,137.5 L660.7,138.0 L661.3,138.5 L661.9,139.0 L662.5,139.5 L663.1,140.0 L663.7,140.5 L664.3,141.1 L665.0,141.6 L665.6,142.1 L666.2,142.6 L666.8,143.1 L667.4,143.7 L668.0,144.2 L668.6,144.7 L669.2,145.2 L669.8,145.8 L670.4,146.3 L671.0,146.8 L671.6,147.3 L672.2,147.9 L672.9,148.4 L673.5,148.9 L674.1,149.4 L674.7,150.0 L675.2,150.5 L675.8,151.1 L676.4,151.6 L677.0,152.1 L677.6,152.7 L678.2,153.2 L678.8,153.8 L679.3,154.3 L679.9,154.9 L680.5,155.5 L681.0,156.0 L681.6,156.6 L682.1,157.2 L682.7,157.8 L683.2,158.4 L683.8,159.0 L684.3,159.6 L684.9,160.2 L685.4,160.8 L685.9,161.4 L686.4,162.0 L687.0,162.6 L687.5,163.2 L688.0,163.8 L688.5,164.4 L689.0,165.0 L689.5,165.6 L690.0,166.3 L690.5,166.9 L691.0,167.5 L691.5,168.1 L692.0,168.8 L692.5,169.4 L693.0,170.0 L693.5,170.7 L694.0,171.3 L694.5,171.9 L695.0,172.6 L695.5,173.2 L696.0,173.8 L696.4,174.5 L696.9,175.1 L697.4,175.8 L697.9,176.4 L698.4,177.0 L698.8,177.7 L699.3,178.3 L699.8,179.0 L700.3,179.6 L700.8,180.3 L701.2,180.9 L701.7,181.6 L702.2,182.2 L702.7,182.8 L703.2,183.5 L703.6,184.1 L704.1,184.8 L704.6,185.4 L705.1,186.0 L705.6,186.7 L706.0,187.3 L706.5,188.0 L707.0,188.6 L707.5,189.3 L707.9,189.9 L708.4,190.6 L708.9,191.2 L709.3,191.9 L709.8,192.5 L710.3,193.2 L710.7,193.8 L711.2,194.5 L711.7,195.1 L712.2,195.8 L712.6,196.4 L713.1,197.1 L713.6,197.7 L714.0,198.4 L714.5,199.0 L715.0,199.7 L715.4,200.3 L715.9,201.0 L716.4,201.6 L716.8,202.3 L717.3,202.9 L717.8,203.6 L718.2,204.2 L718.7,204.9 L719.2,205.5 L719.6,206.2 L720.1,206.8 L720.6,207.5 L721.0,208.1 L721.5,208.8 L722.0,209.4 L722.5,210.1 L722.9,210.7 L723.4,211.3 L723.9,212.0 L724.4,212.6 L724.8,213.3 L725.3,213.9 L725.8,214.6 L726.2,215.2 L726.7,215.9 L727.1,216.6 L727.6,217.2 L728.1,217.9 L728.5,218.5 L729.0,219.2 L729.4,219.9 L729.9,220.5 L730.3,221.2 L730.7,221.9 L731.2,222.5 L731.6,223.2 L732.1,223.9 L732.5,224.5 L732.9,225.2 L733.4,225.9 L733.8,226.6 L734.2,227.2 L734.7,227.9 L735.1,228.6 L735.5,229.3 L735.9,230.0 L736.4,230.6 L736.8,231.3 L737.2,232.0 L737.6,232.7 L738.0,233.4 L738.5,234.0 L738.9,234.7 L739.3,235.4 L739.7,236.1 L740.1,236.8 L740.5,237.5 L740.9,238.2 L741.3,238.9 L741.7,239.6 L742.1,240.3 L742.5,240.9 L742.9,241.6 L743.3,242.3 L743.7,243.0 L744.1,243.7 L744.5,244.4 L744.9,245.1 L745.3,245.8 L745.7,246.5 L746.1,247.2 L746.5,247.9 L746.9,248.6 L747.3,249.3 L747.7,250.0 L748.0,250.7 L748.4,251.4 L748.8,252.1 L749.2,252.8 L749.6,253.5 L749.9,254.3 L750.3,255.0 L750.7,255.7 L751.1,256.4 L751.4,257.1 L751.8,257.8 L752.2,258.5 L752.6,259.2 L752.9,259.9 L753.3,260.6 L753.7,261.3 L754.0,262.1 L754.4,262.8 L754.8,263.5 L755.1,264.2 L755.5,264.9 L755.8,265.6 L756.2,266.4 L756.5,267.1 L756.9,267.8 L757.2,268.5 L757.6,269.2 L757.9,270.0 L758.3,270.7 L758.6,271.4 L759.0,272.1 L759.3,272.8 L759.7,273.6 L760.0,274.3 L760.4,275.0 L760.7,275.7 L761.1,276.5 L761.4,277.2 L761.8,277.9 L762.1,278.6 L762.5,279.3 L762.8,280.1 L763.2,280.8 L763.5,281.5 L763.9,282.2 L764.2,283.0 L764.5,283.7 L764.8,284.4 L765.2,285.2 L765.5,285.9 L765.8,286.6 L766.1,287.4 L766.5,288.1 L766.8,288.8 L767.1,289.6 L767.4,290.3 L767.7,291.0 L768.0,291.8 L768.3,292.5 L768.7,293.3 L769.0,294.0 L769.3,294.7 L769.6,295.5 L769.9,296.2 L770.2,296.9 L770.5,297.7 L770.9,298.4 L771.2,299.1 L771.5,299.9 L771.8,300.6 L772.1,301.4 L772.4,302.1 L772.7,302.8 L773.0,303.6 L773.4,304.3 L773.7,305.0 L774.0,305.8 L774.3,306.5 L774.6,307.3 L774.9,308.0 L775.2,308.7 L775.5,309.5 L775.8,310.2 L776.1,311.0 L776.4,311.7 L776.7,312.4 L777.1,313.2 L777.4,313.9 L777.7,314.7 L778.0,315.4 L778.3,316.1 L778.6,316.9 L778.9,317.6 L779.3,318.3 L779.6,319.1 L779.9,319.8 L780.2,320.5 L780.5,321.3 L780.9,322.0 L781.2,322.7 L781.5,323.5 L781.9,324.2 L782.2,324.9 L782.5,325.7 L782.8,326.4 L783.2,327.1 L783.5,327.9 L783.8,328.6 L784.2,329.3 L784.5,330.0 L784.8,330.8 L785.2,331.5 L785.5,332.2 L785.8,333.0 L786.2,333.7 L786.5,334.4 L786.9,335.1 L787.2,335.9 L787.5,336.6 L787.9,337.3 L788.2,338.0 L788.6,338.8 L788.9,339.5 L789.3,340.2 L789.6,340.9 L789.9,341.7 L790.3,342.4 L790.6,343.1 L791.0,343.8 L791.3,344.5 L791.7,345.3 L792.0,346.0 L792.4,346.7 L792.7,347.4 L793.1,348.1 L793.5,348.9 L793.8,349.6 L794.2,350.3 L794.6,351.0 L794.9,351.7 L795.3,352.4 L795.7,353.1 L796.1,353.8 L796.4,354.5 L796.8,355.2 L797.2,355.9 L797.6,356.6 L798.0,357.3 L798.4,358.0 L798.8,358.7 L799.2,359.4 L799.6,360.1 L800.0,360.8" stroke="#ff00ff" stroke-width="2.5" stroke-dasharray="1.15 1.72"/>
<path d="M69.7,69.6 L70.5,69.6 L71.3,69.6 L72.1,69.6 L72.9,69.6 L73.7,69.6 L74.5,69.6 L75.3,69.6 L76.1,69.6 L76.9,69.6 L77.7,69.6 L78.5,69.6 L79.3,69.6 L80.1,69.6 L80.9,69.6 L81.7,69.6 L82.5,69.6 L83.3,69.6 L84.1,69.6 L84.9,69.6 L85.7,69.6 L86.5,69.6 L87.3,69.6 L88.1,69.6 L88.9,69.6 L89.7,69.6 L90.5,69.6 L91.3,69.6 L92.1,69.6 L92.9,69.6 L93.7,69.6 L94.5,69.6 L95.3,69.6 L96.1,69.6 L96.9,69.6 L97.7,69.6 L98.5,69.6 L99.3,69.6 L100.1,69.6 L100.9,69.6 L101.7,69.6 L102.6,69.6 L103.4,69.6 L104.2,69.6 L105.0,69.6 L105.8,69.6 L106.6,69.6 L107.4,69.6 L108.2,69.6 L109.0,69.6 L109.8,69.6 L110.6,69.6 L111.4,69.6 L112.2,69.6 L113.0,69.6 L113.8,69.6 L114.6,69.6 L115.4,69.6 L116.2,69.6 L117.0,69.6 L117.8,69.6 L118.6,69.6 L119.4,69.6 L120.2,69.6 L121.0,69.6 L121.8,69.6 L122.6,69.6 L123.4,69.6 L124.2,69.6 L125.0,69.6 L125.8,69.6 L126.6,69.6 L127.4,69.6 L128.2,69.6 L129.0,69.6 L129.8,69.7 L130.6,69.7 L131.4,69.7 L132.2,69.7 L133.0,69.7 L133.8,69.7 L134.6,69.7 L135.4,69.7 L136.2,69.7 L137.0,69.7 L137.8,69.7 L138.6,69.7 L139.4,69.7 L140.2,69.7 L141.0,69.7 L141.8,69.7 L142.6,69.7 L143.4,69.7 L144.2,69.7 L145.0,69.7 L145.8,69.7 L146.6,69.7 L147.4,69.7 L148.2,69.7 L149.0,69.7 L149.8,69.7 L150.6,69.7 L151.4,69.7 L152.2,69.7 L153.0,69.7 L153.8,69.7 L154.6,69.7 L155.4,69.7 L156.2,69.7 L157.0,69.7 L157.8,69.7 L158.6,69.7 L159.4,69.7 L160.2,69.7 L161.0,69.7 L161.8,69.7 L162.6,69.7 L163.4,69.7 L164.2,69.7 L165.0,69.7 L165.8,69.7 L166.6,69.7 L167.4,69.7 L168.3,69.7 L169.1,69.7 L169.9,69.7 L170.7,69.7 L171.5,69.7 L172.3,69.7 L173.1,69.7 L173.9,69.7 L174.7,69.7 L175.5,69.7 L176.3,69.7 L177.1,69.7 L177.9,69.7 L178.7,69.7 L179.5,69.7 L180.3,69.8 L181.1,69.8 L181.9,69.8 L182.7,69.8 L183.5,69.8 L184.3,69.8 L185.1,69.8 L185.9,69.8 L186.7,69.8 L187.5,69.8 L188.3,69.8 L189.1,69.8 L189.9,69.8 L190.7,69.8 L191.5,69.8 L192.3,69.8 L193.1,69.8 L193.9,69.8 L194.7,69.8 L195.5,69.8 L196.3,69.8 L197.1,69.8 L197.9,69.8 L198.7,69.8 L199.5,69.8 L200.3,69.8 L201.1,69.8 L201.9,69.8 L202.7,69.8 L203.5,69.8 L204.3,69.8 L205.1,69.8 L205.9,69.9 L206.7,69.9 L207.5,69.9 L208.3,69.9 L209.1,69.9 L209.9,69.9 L210.7,69.9 L211.5,69.9 L212.3,69.9 L213.1,69.9 L213.9,69.9 L214.7,69.9 L215.5,69.9 L216.3,69.9 L217.1,69.9 L217.9,69.9 L218.7,69.9 L219.5,69.9 L220.3,69.9 L221.1,69.9 L221.9,69.9 L222.7,69.9 L223.5,69.9 L224.3,69.9 L225.1,69.9 L225.9,69.9 L226.7,69.9 L227.5,69.9 L228.3,70.0 L229.1,70.0 L229.9,70.0 L230.7,70.0 L231.5,70.0 L232.3,70.0 L233.1,70.0 L233.9,70.0 L234.8,70.0 L235.6,70.0 L236.4,70.0 L237.2,70.0 L238.0,70.0 L238.8,70.0 L239.6,70.0 L240.4,70.0 L241.2,70.0 L242.0,70.0 L242.8,70.0 L243.6,70.0 L244.4,70.0 L245.2,70.0 L246.0,70.0 L246.8,70.0 L247.6,70.0 L248.4,70.0 L249.2,70.0 L250.0,70.0 L250.8,70.0 L251.6,70.0 L252.4,70.0 L253.2,70.0 L254.0,70.1 L254.8,70.1 L255.6,70.1 L256.4,70.1 L257.2,70.1 L258.0,70.1 L258.8,70.1 L259.6,70.1 L260.4,70.1 L261.2,70.1 L262.0,70.1 L262.8,70.1 L263.6,70.1 L264.4,70.1 L265.2,70.1 L266.0,70.1 L266.8,70.1 L267.6,70.1 L268.4,70.1 L269.2,70.1 L270.0,70.1 L270.8,70.1 L271.6,70.1 L272.4,70.1 L273.2,70.1 L274.0,70.1 L274.8,70.1 L275.6,70.1 L276.4,70.1 L277.2,70.1 L278.0,70.1 L278.8,70.1 L279.6,70.1 L280.4,70.2 L281.2,70.2 L282.0,70.2 L282.8,70.2 L283.6,70.2 L284.4,70.2 L285.2,70.2 L286.0,70.2 L286.8,70.2 L287.6,70.2 L288.4,70.2 L289.2,70.2 L290.0,70.2 L290.8,70.2 L291.6,70.2 L292.4,70.2 L293.2,70.2 L294.0,70.2 L294.8,70.2 L295.6,70.2 L296.4,70.2 L297.2,70.2 L298.0,70.2 L298.8,70.2 L299.6,70.2 L300.5,70.2 L301.3,70.2 L302.1,70.3 L302.9,70.3 L303.7,70.3 L304.5,70.3 L305.3,70.3 L306.1,70.3 L306.9,70.3 L307.7,70.3 L308.5,70.3 L309.3,70.3 L310.1,70.3 L310.9,70.3 L311.7,70.3 L312.5,70.3 L313.3,70.3 L314.1,70.3 L314.9,70.3 L315.7,70.3 L316.5,70.3 L317.3,70.4 L318.1,70.4 L318.9,70.4 L319.7,70.4 L320.5,70.4 L321.3,70.4 L322.1,70.4 L322.9,70.4 L323.7,70.4 L324.5,70.4 L325.3,70.4 L326.1,70.4 L326.9,70.4 L327.7,70.5 L328.5,70.5 L329.3,70.5 L330.1,70.5 L330.9,70.5 L331.7,70.5 L332.5,70.5 L333.3,70.5 L334.1,70.5 L334.9,70.5 L335.7,70.5 L336.5,70.6 L337.3,70.6 L338.1,70.6 L338.9,70.6 L339.7,70.6 L340.5,70.6 L341.3,70.6 L342.1,70.6 L342.9,70.6 L343.7,70.6 L344.5,70.7 L345.3,70.7 L346.1,70.7 L346.9,70.7 L347.7,70.7 L348.5,70.7 L349.3,70.7 L350.1,70.7 L350.9,70.7 L351.7,70.8 L352.5,70.8 L353.3,70.8 L354.1,70.8 L354.9,70.8 L355.7,70.8 L356.5,70.8 L357.3,70.8 L358.1,70.9 L358.9,70.9 L359.7,70.9 L360.5,70.9 L361.3,70.9 L362.1,70.9 L362.9,70.9 L363.7,70.9 L364.5,71.0 L365.3,71.0 L366.1,71.0 L366.9,71.0 L367.7,71.0 L368.6,71.0 L369.4,71.0 L370.2,71.0 L371.0,71.1 L371.8,71.1 L372.6,71.1 L373.4,71.1 L374.2,71.1 L375.0,71.1 L375.8,71.1 L376.6,71.1 L377.4,71.2 L378.2,71.2 L379.0,71.2 L379.8,71.2 L380.6,71.2 L381.4,71.2 L382.2,71.2 L383.0,71.2 L383.8,71.3 L384.6,71.3 L385.4,71.3 L386.2,71.3 L387.0,71.3 L387.8,71.3 L388.6,71.3 L389.4,71.4 L390.2,71.4 L391.0,71.4 L391.8,71.4 L392.6,71.4 L393.4,71.4 L394.2,71.4 L395.0,71.5 L395.8,71.5 L396.6,71.5 L397.4,71.5 L398.2,71.5 L399.0,71.5 L399.8,71.5 L400.6,71.6 L401.4,71.6 L402.2,71.6 L403.0,71.6 L403.8,71.6 L404.6,71.6 L405.4,71.6 L406.2,71.7 L407.0,71.7 L407.8,71.7 L408.6,71.7 L409.4,71.7 L410.2,71.7 L411.0,71.7 L411.8,71.8 L412.6,71.8 L413.4,71.8 L414.2,71.8 L415.0,71.8 L415.8,71.8 L416.6,71.9 L417.4,71.9 L418.2,71.9 L419.0,71.9 L419.8,71.9 L420.6,72.0 L421.4,72.0 L422.2,72.0 L423.0,72.0 L423.8,72.0 L424.6,72.0 L425.4,72.1 L426.2,72.1 L427.0,72.1 L427.8,72.1 L428.6,72.1 L429.4,72.2 L430.2,72.2 L431.0,72.2 L431.8,72.2 L432.6,72.3 L433.4,72.3 L434.2,72.3 L435.0,72.3 L435.8,72.3 L436.6,72.4 L437.4,72.4 L438.2,72.4 L439.0,72.4 L439.8,72.5 L440.6,72.5 L441.4,72.5 L442.2,72.5 L443.0,72.6 L443.8,72.6 L444.7,72.6 L445.5,72.6 L446.3,72.7 L447.1,72.7 L447.9,72.7 L448.7,72.7 L449.5,72.8 L450.3,72.8 L451.1,72.8 L451.9,72.9 L452.7,72.9 L453.5,72.9 L454.3,73.0 L455.1,73.0 L455.9,73.1 L456.7,73.1 L457.5,73.1 L458.3,73.2 L459.1,73.2 L459.9,73.3 L460.7,73.3 L461.5,73.3 L462.3,73.4 L463.1,73.4 L463.9,73.5 L464.7,73.5 L465.5,73.6 L466.3,73.6 L467.1,73.7 L467.9,73.7 L468.7,73.8 L469.5,73.8 L470.3,73.9 L471.1,73.9 L471.9,74.0 L472.7,74.0 L473.5,74.1 L474.3,74.1 L475.1,74.2 L475.9,74.2 L476.7,74.3 L477.5,74.3 L478.3,74.4 L479.1,74.4 L479.9,74.5 L480.7,74.5 L481.5,74.6 L482.3,74.6 L483.1,74.7 L483.9,74.7 L484.7,74.8 L485.5,74.8 L486.3,74.9 L487.0,74.9 L487.8,75.0 L488.6,75.0 L489.4,75.1 L490.2,75.2 L491.0,75.2 L491.8,75.3 L492.6,75.3 L493.4,75.4 L494.2,75.4 L495.0,75.5 L495.8,75.6 L496.6,75.6 L497.4,75.7 L498.2,75.8 L499.0,75.8 L499.8,75.9 L500.6,76.0 L501.4,76.0 L502.2,76.1 L503.0,76.2 L503.8,76.3 L504.6,76.3 L505.4,76.4 L506.2,76.5 L507.0,76.6 L507.8,76.7 L508.6,76.7 L509.4,76.8 L510.2,76.9 L511.0,77.0 L511.8,77.1 L512.6,77.2 L513.4,77.3 L514.2,77.4 L515.0,77.5 L515.8,77.6 L516.6,77.7 L517.4,77.8 L518.2,77.9 L518.9,78.0 L519.7,78.1 L520.5,78.2 L521.3,78.3 L522.1,78.4 L522.9,78.5 L523.7,78.6 L524.5,78.7 L525.3,78.8 L526.1,78.9 L526.9,79.0 L527.7,79.2 L528.5,79.3 L529.3,79.4 L530.1,79.5 L530.9,79.6 L531.6,79.7 L532.4,79.8 L533.2,80.0 L534.0,80.1 L534.8,80.2 L535.6,80.3 L536.4,80.5 L537.2,80.6 L538.0,80.7 L538.8,80.9 L539.6,81.0 L540.4,81.1 L541.1,81.3 L541.9,81.4 L542.7,81.5 L543.5,81.7 L544.3,81.8 L545.1,81.9 L545.9,82.0 L546.7,82.2 L547.5,82.3 L548.3,82.4 L549.0,82.6 L549.8,82.7 L550.6,82.8 L551.4,83.0 L552.2,83.1 L553.0,83.3 L553.8,83.4 L554.6,83.5 L555.4,83.7 L556.2,83.8 L556.9,83.9 L557.7,84.1 L558.5,84.2 L559.3,84.4 L560.1,84.5 L560.9,84.7 L561.7,84.8 L562.5,85.0 L563.2,85.1 L564.0,85.2 L564.8,85.4 L565.6,85.5 L566.4,85.7 L567.2,85.8 L568.0,86.0 L568.8,86.1 L569.6,86.3 L570.3,86.4 L571.1,86.6 L571.9,86.7 L572.7,86.9 L573.5,87.0 L574.3,87.2 L575.1,87.3 L575.8,87.5 L576.6,87.6 L577.4,87.8 L578.2,88.0 L579.0,88.1 L579.8,88.3 L580.6,88.5 L581.3,88.6 L582.1,88.8 L582.9,89.0 L583.7,89.1 L584.5,89.3 L585.2,89.5 L586.0,89.7 L586.8,89.8 L587.6,90.0 L588.4,90.2 L589.1,90.4 L589.9,90.6 L590.7,90.8 L591.5,90.9 L592.3,91.1 L593.0,91.3 L593.8,91.5 L594.6,91.7 L595.4,91.9 L596.2,92.1 L596.9,92.3 L597.7,92.5 L598.5,92.7 L599.3,92.9 L600.0,93.1 L600.8,93.3 L601.6,93.5 L602.4,93.7 L603.1,94.0 L603.9,94.2 L604.7,94.4 L605.4,94.6 L606.2,94.8 L607.0,95.0 L607.8,95.2 L608.5,95.4 L609.3,95.7 L610.1,95.9 L610.8,96.1 L611.6,96.3 L612.4,96.6 L613.1,96.8 L613.9,97.0 L614.7,97.2 L615.5,97.5 L616.2,97.7 L617.0,97.9 L617.8,98.2 L618.5,98.4 L619.3,98.6 L620.1,98.9 L620.8,99.1 L621.6,99.4 L622.3,99.6 L623.1,99.8 L623.9,100.1 L624.6,100.3 L625.4,100.6 L626.2,100.8 L626.9,101.1 L627.7,101.3 L628.4,101.6 L629.2,101.8 L630.0,102.1 L630.7,102.4 L631.5,102.6 L632.2,102.9 L633.0,103.1 L633.7,103.4 L634.5,103.7 L635.3,103.9 L636.0,104.2 L636.8,104.5 L637.5,104.8 L638.3,105.0 L639.0,105.3 L639.8,105.6 L640.5,105.9 L641.3,106.2 L642.0,106.5 L642.8,106.8 L643.5,107.0 L644.2,107.3 L645.0,107.6 L645.7,107.9 L646.5,108.2 L647.2,108.5 L648.0,108.8 L648.7,109.1 L649.5,109.4 L650.2,109.7 L651.0,110.0 L651.7,110.3 L652.5,110.6 L653.2,110.8 L654.0,111.1 L654.7,111.4 L655.4,111.7 L656.2,112.0 L656.9,112.3 L657.7,112.6 L658.4,112.8 L659.2,113.1 L659.9,113.4 L660.7,113.7 L661.4,114.0 L662.2,114.3 L662.9,114.5 L663.7,114.8 L664.4,115.1 L665.2,115.4 L665.9,115.7 L666.7,115.9 L667.4,116.2 L668.2,116.5 L668.9,116.8 L669.7,117.1 L670.4,117.3 L671.2,117.6 L671.9,117.9 L672.7,118.2 L673.4,118.5 L674.2,118.8 L674.9,119.0 L675.7,119.3 L676.4,119.6 L677.2,119.9 L677.9,120.2 L678.7,120.5 L679.4,120.8 L680.2,121.1 L680.9,121.3 L681.7,121.6 L682.4,121.9 L683.2,122.2 L683.9,122.5 L684.7,122.8 L685.4,123.1 L686.2,123.4 L686.9,123.7 L687.6,124.0 L688.4,124.3 L689.1,124.6 L689.9,124.9 L690.6,125.2 L691.4,125.4 L692.1,125.7 L692.9,126.0 L693.6,126.3 L694.3,126.6 L695.1,126.9 L695.8,127.2 L696.6,127.5 L697.3,127.8 L698.1,128.1 L698.8,128.4 L699.6,128.7 L700.3,129.0 L701.0,129.3 L701.8,129.6 L702.5,129.9 L703.3,130.2 L704.0,130.5 L704.8,130.8 L705.5,131.1 L706.2,131.4 L707.0,131.7 L707.7,132.0 L708.5,132.3 L709.2,132.6 L709.9,132.9 L710.7,133.3 L711.4,133.6 L712.2,133.9 L712.9,134.2 L713.6,134.5 L714.4,134.8 L715.1,135.1 L715.9,135.4 L716.6,135.7 L717.3,136.0 L718.1,136.3 L718.8,136.6 L719.6,136.9 L720.3,137.2 L721.1,137.5 L721.8,137.8 L722.5,138.1 L723.3,138.4 L724.0,138.7 L724.8,139.0 L725.5,139.3 L726.3,139.6 L727.0,139.9 L727.8,140.2 L728.5,140.5 L729.3,140.8 L730.0,141.0 L730.7,141.3 L731.5,141.6 L732.3,141.9 L733.0,142.2 L733.8,142.4 L734.5,142.7 L735.3,143.0 L736.0,143.3 L736.8,143.5 L737.5,143.8 L738.3,144.1 L739.0,144.3 L739.8,144.6 L740.5,144.9 L741.3,145.2 L742.0,145.4 L742.8,145.7 L743.6,146.0 L744.3,146.2 L745.1,146.5 L745.8,146.8 L746.6,147.1 L747.3,147.3 L748.1,147.6 L748.8,147.9 L749.6,148.2 L750.3,148.4 L751.1,148.7 L751.8,149.0 L752.6,149.3 L753.3,149.6 L754.1,149.8 L754.8,150.1 L755.6,150.4 L756.3,150.7 L757.1,151.0 L757.8,151.3 L758.6,151.6 L759.3,151.9 L760.1,152.2 L760.8,152.5 L761.5,152.8 L762.3,153.1 L763.0,153.3 L763.8,153.6 L764.5,153.9 L765.3,154.2 L766.0,154.5 L766.8,154.8 L767.5,155.1 L768.2,155.4 L769.0,155.7 L769.7,156.0 L770.5,156.3 L771.2,156.6 L772.0,156.9 L772.7,157.2 L773.4,157.5 L774.2,157.8 L774.9,158.1 L775.7,158.4 L776.4,158.7 L777.1,159.0 L777.9,159.4 L778.6,159.7 L779.4,160.0 L780.1,160.3 L780.8,160.6 L781.6,160.9 L782.3,161.2 L783.1,161.5 L783.8,161.8 L784.5,162.1 L785.3,162.4 L786.0,162.8 L786.8,163.1 L787.5,163.4 L788.2,163.7 L789.0,164.0 L789.7,164.3 L790.4,164.6 L791.2,165.0 L791.9,165.3 L792.7,165.6 L793.4,165.9 L794.1,166.2 L794.9,166.5 L795.6,166.9 L796.3,167.2 L797.1,167.5 L797.8,167.8 L798.5,168.2 L799.3,168.5 L800.0,168.8" stroke="#000000" stroke-width="2.5" stroke-dasharray="6.90 2.30 1.15 2.30"/>
</g>
<g fill="none">
<path d="M272.7,403.9 L319.0,403.9" stroke="#ff0000" stroke-width="2.5"/>
<path d="M272.7,426.7 L319.0,426.7" stroke="#00ff00" stroke-width="2.5" stroke-dasharray="4.60 2.30"/>
<path d="M272.7,449.35 L318.5,449.35" stroke="#0000ff" stroke-width="2.5" stroke-dasharray="2.47 3.28"/>
<path d="M272.7,472.0 L318.5,472.0" stroke="#ff00ff" stroke-width="2.5" stroke-dasharray="1.15 1.72"/>
<path d="M272.7,494.6 L319.0,494.6" stroke="#000000" stroke-width="2.5" stroke-dasharray="6.90 2.30 1.15 2.30"/>
</g>
<g stroke="#000" fill="none" stroke-linecap="butt"><path d="M68.05,19.2 H802.5" stroke-width="2.6"/><path d="M68.05,513.2 H802.5" stroke-width="2.6"/><path d="M69.55,17.9 V514.5" stroke-width="3.0"/><path d="M801.2,17.9 V514.5" stroke-width="2.6"/></g>
<g font-family="'Liberation Sans', sans-serif" font-size="16.0" fill="#000" stroke="#000" stroke-width="0.18">
<text x="60.0" y="519.99" text-anchor="end">10<tspan font-size="12.8" dy="-8.0">-8</tspan></text>
<text x="60.0" y="430.17" text-anchor="end">10<tspan font-size="12.8" dy="-8.0">-6</tspan></text>
<text x="60.0" y="340.35" text-anchor="end">10<tspan font-size="12.8" dy="-8.0">-4</tspan></text>
<text x="60.0" y="250.54" text-anchor="end">10<tspan font-size="12.8" dy="-8.0">-2</tspan></text>
<text x="60.0" y="160.72" text-anchor="end">10<tspan font-size="12.8" dy="-8.0">0</tspan></text>
<text x="60.0" y="70.90" text-anchor="end">10<tspan font-size="12.8" dy="-8.0">2</tspan></text>
<text x="121.80" y="535.9" text-anchor="middle">10<tspan font-size="12.8" dy="-8.0">-1</tspan></text>
<text x="461.50" y="535.9" text-anchor="middle">10<tspan font-size="12.8" dy="-8.0">0</tspan></text>
<text x="801.20" y="535.9" text-anchor="middle">10<tspan font-size="12.8" dy="-8.0">1</tspan></text>
<text x="435.3" y="560.3" text-anchor="middle">k (h Mpc<tspan font-size="12.8" dy="-8.0">-1</tspan><tspan dy="8.0">)</tspan></text>
<text transform="translate(18.6,266.6) rotate(-90)" text-anchor="middle">T(k)</text>
<text x="263.80" y="409.20" text-anchor="end" xml:space="preserve"><tspan font-family="'Liberation Serif', serif">Λ</tspan>CDM</text>
<text x="263.00" y="432.00" text-anchor="end" xml:space="preserve">LFDM z<tspan font-size="12.8" dy="4.8">f</tspan><tspan dy="-4.8"> = 1 x 10</tspan><tspan font-size="12.8" dy="-8.0">5</tspan></text>
<text x="263.00" y="454.65" text-anchor="end" xml:space="preserve">CHDM z<tspan font-size="12.8" dy="4.8">decay</tspan><tspan dy="-4.8"> = 1 x 10</tspan><tspan font-size="12.8" dy="-8.0">5</tspan></text>
<text x="263.00" y="477.30" text-anchor="end" xml:space="preserve">WDM m<tspan font-size="12.8" dy="4.8">wdm</tspan><tspan dy="-4.8"> = 0.33 keV</tspan></text>
<text x="263.00" y="499.90" text-anchor="end" xml:space="preserve">ULADM m<tspan font-size="12.8" dy="4.8">a</tspan><tspan dy="-4.8"> = 10</tspan><tspan font-size="12.8" dy="-8.0">-24</tspan><tspan dy="8.0"> eV</tspan></text>
</g>
</svg>
</body>
</html>
